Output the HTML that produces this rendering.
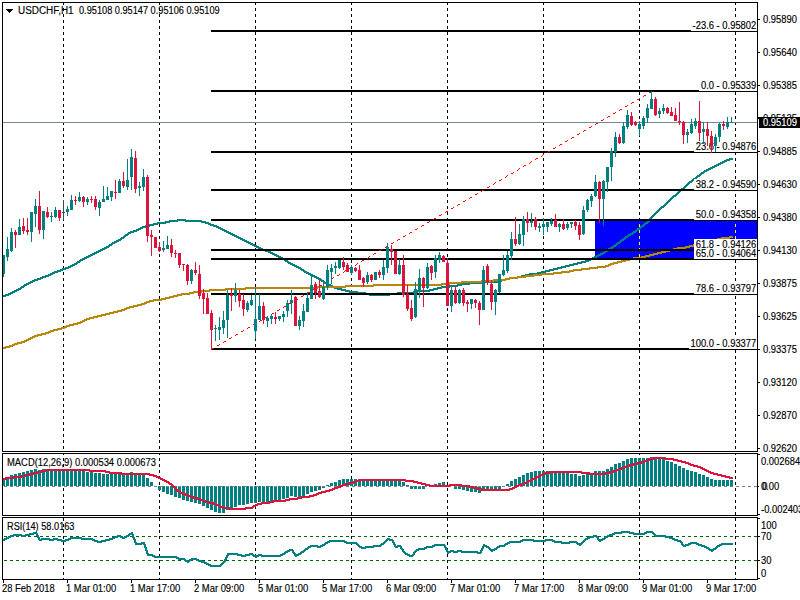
<!DOCTYPE html>
<html><head><meta charset="utf-8"><style>
html,body{margin:0;padding:0;background:#fff;width:800px;height:600px;overflow:hidden;position:relative}
.t{font-family:"Liberation Sans", "DejaVu Sans", sans-serif;font-size:10px;fill:#000;stroke:currentColor;stroke-width:0.15px;white-space:pre}
</style></head><body>
<svg width="800" height="600" viewBox="0 0 800 600" shape-rendering="crispEdges" style="position:absolute;left:0;top:0">
<rect x="0" y="0" width="800" height="600" fill="#fff"/>
<path d="M63 3h1v2h-1zM63 8h1v3h-1zM63 14h1v3h-1zM63 20h1v3h-1zM63 26h1v3h-1zM63 32h1v3h-1zM63 38h1v3h-1zM63 44h1v3h-1zM63 50h1v3h-1zM63 56h1v3h-1zM63 62h1v3h-1zM63 68h1v3h-1zM63 74h1v3h-1zM63 80h1v3h-1zM63 86h1v3h-1zM63 92h1v3h-1zM63 98h1v3h-1zM63 104h1v3h-1zM63 110h1v3h-1zM63 116h1v3h-1zM63 122h1v3h-1zM63 128h1v3h-1zM63 134h1v3h-1zM63 140h1v3h-1zM63 146h1v3h-1zM63 152h1v3h-1zM63 158h1v3h-1zM63 164h1v3h-1zM63 170h1v3h-1zM63 176h1v3h-1zM63 182h1v3h-1zM63 188h1v3h-1zM63 194h1v3h-1zM63 200h1v3h-1zM63 206h1v3h-1zM63 212h1v3h-1zM63 218h1v3h-1zM63 224h1v3h-1zM63 230h1v3h-1zM63 236h1v3h-1zM63 242h1v3h-1zM63 248h1v3h-1zM63 254h1v3h-1zM63 260h1v3h-1zM63 266h1v3h-1zM63 272h1v3h-1zM63 278h1v3h-1zM63 284h1v3h-1zM63 290h1v3h-1zM63 296h1v3h-1zM63 302h1v3h-1zM63 308h1v3h-1zM63 314h1v3h-1zM63 320h1v3h-1zM63 326h1v3h-1zM63 332h1v3h-1zM63 338h1v3h-1zM63 344h1v3h-1zM63 350h1v3h-1zM63 356h1v3h-1zM63 362h1v3h-1zM63 368h1v3h-1zM63 374h1v3h-1zM63 380h1v3h-1zM63 386h1v3h-1zM63 392h1v3h-1zM63 398h1v3h-1zM63 404h1v3h-1zM63 410h1v3h-1zM63 416h1v3h-1zM63 422h1v3h-1zM63 428h1v3h-1zM63 434h1v3h-1zM63 440h1v3h-1zM63 446h1v3h-1z" fill="#000"/>
<path d="M159 3h1v2h-1zM159 8h1v3h-1zM159 14h1v3h-1zM159 20h1v3h-1zM159 26h1v3h-1zM159 32h1v3h-1zM159 38h1v3h-1zM159 44h1v3h-1zM159 50h1v3h-1zM159 56h1v3h-1zM159 62h1v3h-1zM159 68h1v3h-1zM159 74h1v3h-1zM159 80h1v3h-1zM159 86h1v3h-1zM159 92h1v3h-1zM159 98h1v3h-1zM159 104h1v3h-1zM159 110h1v3h-1zM159 116h1v3h-1zM159 122h1v3h-1zM159 128h1v3h-1zM159 134h1v3h-1zM159 140h1v3h-1zM159 146h1v3h-1zM159 152h1v3h-1zM159 158h1v3h-1zM159 164h1v3h-1zM159 170h1v3h-1zM159 176h1v3h-1zM159 182h1v3h-1zM159 188h1v3h-1zM159 194h1v3h-1zM159 200h1v3h-1zM159 206h1v3h-1zM159 212h1v3h-1zM159 218h1v3h-1zM159 224h1v3h-1zM159 230h1v3h-1zM159 236h1v3h-1zM159 242h1v3h-1zM159 248h1v3h-1zM159 254h1v3h-1zM159 260h1v3h-1zM159 266h1v3h-1zM159 272h1v3h-1zM159 278h1v3h-1zM159 284h1v3h-1zM159 290h1v3h-1zM159 296h1v3h-1zM159 302h1v3h-1zM159 308h1v3h-1zM159 314h1v3h-1zM159 320h1v3h-1zM159 326h1v3h-1zM159 332h1v3h-1zM159 338h1v3h-1zM159 344h1v3h-1zM159 350h1v3h-1zM159 356h1v3h-1zM159 362h1v3h-1zM159 368h1v3h-1zM159 374h1v3h-1zM159 380h1v3h-1zM159 386h1v3h-1zM159 392h1v3h-1zM159 398h1v3h-1zM159 404h1v3h-1zM159 410h1v3h-1zM159 416h1v3h-1zM159 422h1v3h-1zM159 428h1v3h-1zM159 434h1v3h-1zM159 440h1v3h-1zM159 446h1v3h-1z" fill="#000"/>
<path d="M255 3h1v2h-1zM255 8h1v3h-1zM255 14h1v3h-1zM255 20h1v3h-1zM255 26h1v3h-1zM255 32h1v3h-1zM255 38h1v3h-1zM255 44h1v3h-1zM255 50h1v3h-1zM255 56h1v3h-1zM255 62h1v3h-1zM255 68h1v3h-1zM255 74h1v3h-1zM255 80h1v3h-1zM255 86h1v3h-1zM255 92h1v3h-1zM255 98h1v3h-1zM255 104h1v3h-1zM255 110h1v3h-1zM255 116h1v3h-1zM255 122h1v3h-1zM255 128h1v3h-1zM255 134h1v3h-1zM255 140h1v3h-1zM255 146h1v3h-1zM255 152h1v3h-1zM255 158h1v3h-1zM255 164h1v3h-1zM255 170h1v3h-1zM255 176h1v3h-1zM255 182h1v3h-1zM255 188h1v3h-1zM255 194h1v3h-1zM255 200h1v3h-1zM255 206h1v3h-1zM255 212h1v3h-1zM255 218h1v3h-1zM255 224h1v3h-1zM255 230h1v3h-1zM255 236h1v3h-1zM255 242h1v3h-1zM255 248h1v3h-1zM255 254h1v3h-1zM255 260h1v3h-1zM255 266h1v3h-1zM255 272h1v3h-1zM255 278h1v3h-1zM255 284h1v3h-1zM255 290h1v3h-1zM255 296h1v3h-1zM255 302h1v3h-1zM255 308h1v3h-1zM255 314h1v3h-1zM255 320h1v3h-1zM255 326h1v3h-1zM255 332h1v3h-1zM255 338h1v3h-1zM255 344h1v3h-1zM255 350h1v3h-1zM255 356h1v3h-1zM255 362h1v3h-1zM255 368h1v3h-1zM255 374h1v3h-1zM255 380h1v3h-1zM255 386h1v3h-1zM255 392h1v3h-1zM255 398h1v3h-1zM255 404h1v3h-1zM255 410h1v3h-1zM255 416h1v3h-1zM255 422h1v3h-1zM255 428h1v3h-1zM255 434h1v3h-1zM255 440h1v3h-1zM255 446h1v3h-1z" fill="#000"/>
<path d="M351 3h1v2h-1zM351 8h1v3h-1zM351 14h1v3h-1zM351 20h1v3h-1zM351 26h1v3h-1zM351 32h1v3h-1zM351 38h1v3h-1zM351 44h1v3h-1zM351 50h1v3h-1zM351 56h1v3h-1zM351 62h1v3h-1zM351 68h1v3h-1zM351 74h1v3h-1zM351 80h1v3h-1zM351 86h1v3h-1zM351 92h1v3h-1zM351 98h1v3h-1zM351 104h1v3h-1zM351 110h1v3h-1zM351 116h1v3h-1zM351 122h1v3h-1zM351 128h1v3h-1zM351 134h1v3h-1zM351 140h1v3h-1zM351 146h1v3h-1zM351 152h1v3h-1zM351 158h1v3h-1zM351 164h1v3h-1zM351 170h1v3h-1zM351 176h1v3h-1zM351 182h1v3h-1zM351 188h1v3h-1zM351 194h1v3h-1zM351 200h1v3h-1zM351 206h1v3h-1zM351 212h1v3h-1zM351 218h1v3h-1zM351 224h1v3h-1zM351 230h1v3h-1zM351 236h1v3h-1zM351 242h1v3h-1zM351 248h1v3h-1zM351 254h1v3h-1zM351 260h1v3h-1zM351 266h1v3h-1zM351 272h1v3h-1zM351 278h1v3h-1zM351 284h1v3h-1zM351 290h1v3h-1zM351 296h1v3h-1zM351 302h1v3h-1zM351 308h1v3h-1zM351 314h1v3h-1zM351 320h1v3h-1zM351 326h1v3h-1zM351 332h1v3h-1zM351 338h1v3h-1zM351 344h1v3h-1zM351 350h1v3h-1zM351 356h1v3h-1zM351 362h1v3h-1zM351 368h1v3h-1zM351 374h1v3h-1zM351 380h1v3h-1zM351 386h1v3h-1zM351 392h1v3h-1zM351 398h1v3h-1zM351 404h1v3h-1zM351 410h1v3h-1zM351 416h1v3h-1zM351 422h1v3h-1zM351 428h1v3h-1zM351 434h1v3h-1zM351 440h1v3h-1zM351 446h1v3h-1z" fill="#000"/>
<path d="M447 3h1v2h-1zM447 8h1v3h-1zM447 14h1v3h-1zM447 20h1v3h-1zM447 26h1v3h-1zM447 32h1v3h-1zM447 38h1v3h-1zM447 44h1v3h-1zM447 50h1v3h-1zM447 56h1v3h-1zM447 62h1v3h-1zM447 68h1v3h-1zM447 74h1v3h-1zM447 80h1v3h-1zM447 86h1v3h-1zM447 92h1v3h-1zM447 98h1v3h-1zM447 104h1v3h-1zM447 110h1v3h-1zM447 116h1v3h-1zM447 122h1v3h-1zM447 128h1v3h-1zM447 134h1v3h-1zM447 140h1v3h-1zM447 146h1v3h-1zM447 152h1v3h-1zM447 158h1v3h-1zM447 164h1v3h-1zM447 170h1v3h-1zM447 176h1v3h-1zM447 182h1v3h-1zM447 188h1v3h-1zM447 194h1v3h-1zM447 200h1v3h-1zM447 206h1v3h-1zM447 212h1v3h-1zM447 218h1v3h-1zM447 224h1v3h-1zM447 230h1v3h-1zM447 236h1v3h-1zM447 242h1v3h-1zM447 248h1v3h-1zM447 254h1v3h-1zM447 260h1v3h-1zM447 266h1v3h-1zM447 272h1v3h-1zM447 278h1v3h-1zM447 284h1v3h-1zM447 290h1v3h-1zM447 296h1v3h-1zM447 302h1v3h-1zM447 308h1v3h-1zM447 314h1v3h-1zM447 320h1v3h-1zM447 326h1v3h-1zM447 332h1v3h-1zM447 338h1v3h-1zM447 344h1v3h-1zM447 350h1v3h-1zM447 356h1v3h-1zM447 362h1v3h-1zM447 368h1v3h-1zM447 374h1v3h-1zM447 380h1v3h-1zM447 386h1v3h-1zM447 392h1v3h-1zM447 398h1v3h-1zM447 404h1v3h-1zM447 410h1v3h-1zM447 416h1v3h-1zM447 422h1v3h-1zM447 428h1v3h-1zM447 434h1v3h-1zM447 440h1v3h-1zM447 446h1v3h-1z" fill="#000"/>
<path d="M543 3h1v2h-1zM543 8h1v3h-1zM543 14h1v3h-1zM543 20h1v3h-1zM543 26h1v3h-1zM543 32h1v3h-1zM543 38h1v3h-1zM543 44h1v3h-1zM543 50h1v3h-1zM543 56h1v3h-1zM543 62h1v3h-1zM543 68h1v3h-1zM543 74h1v3h-1zM543 80h1v3h-1zM543 86h1v3h-1zM543 92h1v3h-1zM543 98h1v3h-1zM543 104h1v3h-1zM543 110h1v3h-1zM543 116h1v3h-1zM543 122h1v3h-1zM543 128h1v3h-1zM543 134h1v3h-1zM543 140h1v3h-1zM543 146h1v3h-1zM543 152h1v3h-1zM543 158h1v3h-1zM543 164h1v3h-1zM543 170h1v3h-1zM543 176h1v3h-1zM543 182h1v3h-1zM543 188h1v3h-1zM543 194h1v3h-1zM543 200h1v3h-1zM543 206h1v3h-1zM543 212h1v3h-1zM543 218h1v3h-1zM543 224h1v3h-1zM543 230h1v3h-1zM543 236h1v3h-1zM543 242h1v3h-1zM543 248h1v3h-1zM543 254h1v3h-1zM543 260h1v3h-1zM543 266h1v3h-1zM543 272h1v3h-1zM543 278h1v3h-1zM543 284h1v3h-1zM543 290h1v3h-1zM543 296h1v3h-1zM543 302h1v3h-1zM543 308h1v3h-1zM543 314h1v3h-1zM543 320h1v3h-1zM543 326h1v3h-1zM543 332h1v3h-1zM543 338h1v3h-1zM543 344h1v3h-1zM543 350h1v3h-1zM543 356h1v3h-1zM543 362h1v3h-1zM543 368h1v3h-1zM543 374h1v3h-1zM543 380h1v3h-1zM543 386h1v3h-1zM543 392h1v3h-1zM543 398h1v3h-1zM543 404h1v3h-1zM543 410h1v3h-1zM543 416h1v3h-1zM543 422h1v3h-1zM543 428h1v3h-1zM543 434h1v3h-1zM543 440h1v3h-1zM543 446h1v3h-1z" fill="#000"/>
<path d="M639 3h1v2h-1zM639 8h1v3h-1zM639 14h1v3h-1zM639 20h1v3h-1zM639 26h1v3h-1zM639 32h1v3h-1zM639 38h1v3h-1zM639 44h1v3h-1zM639 50h1v3h-1zM639 56h1v3h-1zM639 62h1v3h-1zM639 68h1v3h-1zM639 74h1v3h-1zM639 80h1v3h-1zM639 86h1v3h-1zM639 92h1v3h-1zM639 98h1v3h-1zM639 104h1v3h-1zM639 110h1v3h-1zM639 116h1v3h-1zM639 122h1v3h-1zM639 128h1v3h-1zM639 134h1v3h-1zM639 140h1v3h-1zM639 146h1v3h-1zM639 152h1v3h-1zM639 158h1v3h-1zM639 164h1v3h-1zM639 170h1v3h-1zM639 176h1v3h-1zM639 182h1v3h-1zM639 188h1v3h-1zM639 194h1v3h-1zM639 200h1v3h-1zM639 206h1v3h-1zM639 212h1v3h-1zM639 218h1v3h-1zM639 224h1v3h-1zM639 230h1v3h-1zM639 236h1v3h-1zM639 242h1v3h-1zM639 248h1v3h-1zM639 254h1v3h-1zM639 260h1v3h-1zM639 266h1v3h-1zM639 272h1v3h-1zM639 278h1v3h-1zM639 284h1v3h-1zM639 290h1v3h-1zM639 296h1v3h-1zM639 302h1v3h-1zM639 308h1v3h-1zM639 314h1v3h-1zM639 320h1v3h-1zM639 326h1v3h-1zM639 332h1v3h-1zM639 338h1v3h-1zM639 344h1v3h-1zM639 350h1v3h-1zM639 356h1v3h-1zM639 362h1v3h-1zM639 368h1v3h-1zM639 374h1v3h-1zM639 380h1v3h-1zM639 386h1v3h-1zM639 392h1v3h-1zM639 398h1v3h-1zM639 404h1v3h-1zM639 410h1v3h-1zM639 416h1v3h-1zM639 422h1v3h-1zM639 428h1v3h-1zM639 434h1v3h-1zM639 440h1v3h-1zM639 446h1v3h-1z" fill="#000"/>
<path d="M735 3h1v2h-1zM735 8h1v3h-1zM735 14h1v3h-1zM735 20h1v3h-1zM735 26h1v3h-1zM735 32h1v3h-1zM735 38h1v3h-1zM735 44h1v3h-1zM735 50h1v3h-1zM735 56h1v3h-1zM735 62h1v3h-1zM735 68h1v3h-1zM735 74h1v3h-1zM735 80h1v3h-1zM735 86h1v3h-1zM735 92h1v3h-1zM735 98h1v3h-1zM735 104h1v3h-1zM735 110h1v3h-1zM735 116h1v3h-1zM735 122h1v3h-1zM735 128h1v3h-1zM735 134h1v3h-1zM735 140h1v3h-1zM735 146h1v3h-1zM735 152h1v3h-1zM735 158h1v3h-1zM735 164h1v3h-1zM735 170h1v3h-1zM735 176h1v3h-1zM735 182h1v3h-1zM735 188h1v3h-1zM735 194h1v3h-1zM735 200h1v3h-1zM735 206h1v3h-1zM735 212h1v3h-1zM735 218h1v3h-1zM735 224h1v3h-1zM735 230h1v3h-1zM735 236h1v3h-1zM735 242h1v3h-1zM735 248h1v3h-1zM735 254h1v3h-1zM735 260h1v3h-1zM735 266h1v3h-1zM735 272h1v3h-1zM735 278h1v3h-1zM735 284h1v3h-1zM735 290h1v3h-1zM735 296h1v3h-1zM735 302h1v3h-1zM735 308h1v3h-1zM735 314h1v3h-1zM735 320h1v3h-1zM735 326h1v3h-1zM735 332h1v3h-1zM735 338h1v3h-1zM735 344h1v3h-1zM735 350h1v3h-1zM735 356h1v3h-1zM735 362h1v3h-1zM735 368h1v3h-1zM735 374h1v3h-1zM735 380h1v3h-1zM735 386h1v3h-1zM735 392h1v3h-1zM735 398h1v3h-1zM735 404h1v3h-1zM735 410h1v3h-1zM735 416h1v3h-1zM735 422h1v3h-1zM735 428h1v3h-1zM735 434h1v3h-1zM735 440h1v3h-1zM735 446h1v3h-1z" fill="#000"/>
<rect x="595" y="221" width="162" height="37" fill="#0000ff"/>
<path d="M639 224h1v1h-1zM639 225h1v1h-1zM639 226h1v1h-1zM639 230h1v1h-1zM639 231h1v1h-1zM639 232h1v1h-1zM639 236h1v1h-1zM639 237h1v1h-1zM639 238h1v1h-1zM639 242h1v1h-1zM639 243h1v1h-1zM639 244h1v1h-1zM639 248h1v1h-1zM639 249h1v1h-1zM639 250h1v1h-1zM639 254h1v1h-1zM639 255h1v1h-1zM639 256h1v1h-1z" fill="#ffff00"/>
<path d="M735 224h1v1h-1zM735 225h1v1h-1zM735 226h1v1h-1zM735 230h1v1h-1zM735 231h1v1h-1zM735 232h1v1h-1zM735 236h1v1h-1zM735 237h1v1h-1zM735 238h1v1h-1zM735 242h1v1h-1zM735 243h1v1h-1zM735 244h1v1h-1zM735 248h1v1h-1zM735 249h1v1h-1zM735 250h1v1h-1zM735 254h1v1h-1zM735 255h1v1h-1zM735 256h1v1h-1z" fill="#ffff00"/>
<rect x="3" y="122" width="754" height="1" fill="#778899"/>
<path d="M3 295h1v2h-1zM4 295h1v2h-1zM5 294h1v3h-1zM6 294h1v2h-1zM7 294h1v2h-1zM8 293h1v3h-1zM9 293h1v2h-1zM10 292h1v3h-1zM11 292h1v2h-1zM12 291h1v3h-1zM13 291h1v2h-1zM14 290h1v3h-1zM15 290h1v2h-1zM16 289h1v3h-1zM17 289h1v2h-1zM18 288h1v3h-1zM19 288h1v2h-1zM20 287h1v3h-1zM21 286h1v3h-1zM22 286h1v2h-1zM23 285h1v3h-1zM24 284h1v3h-1zM25 284h1v2h-1zM26 283h1v3h-1zM27 283h1v2h-1zM28 282h1v3h-1zM29 282h1v2h-1zM30 281h1v3h-1zM31 281h1v2h-1zM32 280h1v3h-1zM33 280h1v2h-1zM34 279h1v3h-1zM35 279h1v2h-1zM36 279h1v2h-1zM37 278h1v3h-1zM38 278h1v2h-1zM39 278h1v2h-1zM40 277h1v3h-1zM41 277h1v2h-1zM42 276h1v3h-1zM43 276h1v2h-1zM44 276h1v2h-1zM45 275h1v3h-1zM46 275h1v2h-1zM47 275h1v2h-1zM48 274h1v3h-1zM49 274h1v2h-1zM50 273h1v3h-1zM51 273h1v2h-1zM52 272h1v3h-1zM53 272h1v2h-1zM54 271h1v3h-1zM55 271h1v2h-1zM56 271h1v2h-1zM57 270h1v3h-1zM58 270h1v2h-1zM59 270h1v2h-1zM60 269h1v3h-1zM61 269h1v2h-1zM62 268h1v3h-1zM63 268h1v2h-1zM64 268h1v2h-1zM65 267h1v3h-1zM66 267h1v2h-1zM67 267h1v2h-1zM68 266h1v3h-1zM69 266h1v2h-1zM70 265h1v3h-1zM71 265h1v2h-1zM72 264h1v3h-1zM73 264h1v2h-1zM74 263h1v3h-1zM75 263h1v2h-1zM76 262h1v3h-1zM77 261h1v3h-1zM78 261h1v2h-1zM79 260h1v3h-1zM80 259h1v3h-1zM81 259h1v2h-1zM82 258h1v3h-1zM83 258h1v2h-1zM84 257h1v3h-1zM85 257h1v2h-1zM86 256h1v3h-1zM87 256h1v2h-1zM88 255h1v3h-1zM89 255h1v2h-1zM90 254h1v3h-1zM91 254h1v2h-1zM92 253h1v3h-1zM93 253h1v2h-1zM94 252h1v3h-1zM95 252h1v2h-1zM96 251h1v3h-1zM97 251h1v2h-1zM98 250h1v3h-1zM99 250h1v2h-1zM100 249h1v3h-1zM101 249h1v2h-1zM102 248h1v3h-1zM103 248h1v2h-1zM104 247h1v3h-1zM105 247h1v2h-1zM106 246h1v3h-1zM107 246h1v2h-1zM108 245h1v3h-1zM109 244h1v3h-1zM110 244h1v2h-1zM111 243h1v3h-1zM112 242h1v3h-1zM113 242h1v2h-1zM114 241h1v3h-1zM115 241h1v2h-1zM116 240h1v3h-1zM117 240h1v2h-1zM118 239h1v3h-1zM119 239h1v2h-1zM120 238h1v3h-1zM121 237h1v3h-1zM122 237h1v2h-1zM123 236h1v3h-1zM124 235h1v3h-1zM125 234h1v3h-1zM126 234h1v2h-1zM127 233h1v3h-1zM128 232h1v3h-1zM129 232h1v2h-1zM130 231h1v3h-1zM131 231h1v2h-1zM132 231h1v2h-1zM133 230h1v3h-1zM134 230h1v2h-1zM135 230h1v2h-1zM136 229h1v3h-1zM137 229h1v2h-1zM138 228h1v3h-1zM139 228h1v2h-1zM140 227h1v3h-1zM141 227h1v2h-1zM142 226h1v3h-1zM143 226h1v2h-1zM144 226h1v2h-1zM145 225h1v3h-1zM146 225h1v2h-1zM147 225h1v2h-1zM148 225h1v2h-1zM149 224h1v3h-1zM150 224h1v2h-1zM151 224h1v2h-1zM152 224h1v2h-1zM153 223h1v3h-1zM154 223h1v2h-1zM155 223h1v2h-1zM156 223h1v2h-1zM157 222h1v3h-1zM158 222h1v2h-1zM159 222h1v2h-1zM160 222h1v2h-1zM161 222h1v2h-1zM162 222h1v2h-1zM163 222h1v2h-1zM164 222h1v2h-1zM165 221h1v3h-1zM166 221h1v2h-1zM167 221h1v2h-1zM168 221h1v2h-1zM169 220h1v3h-1zM170 220h1v2h-1zM171 220h1v2h-1zM172 220h1v2h-1zM173 220h1v2h-1zM174 220h1v2h-1zM175 220h1v2h-1zM176 220h1v2h-1zM177 219h1v3h-1zM178 219h1v2h-1zM179 219h1v2h-1zM180 219h1v2h-1zM181 219h1v2h-1zM182 219h1v2h-1zM183 219h1v2h-1zM184 219h1v2h-1zM185 219h1v3h-1zM186 220h1v2h-1zM187 220h1v2h-1zM188 220h1v2h-1zM189 220h1v2h-1zM190 220h1v2h-1zM191 220h1v2h-1zM192 220h1v2h-1zM193 220h1v2h-1zM194 220h1v2h-1zM195 220h1v2h-1zM196 220h1v2h-1zM197 220h1v2h-1zM198 220h1v2h-1zM199 220h1v2h-1zM200 220h1v2h-1zM201 220h1v3h-1zM202 221h1v2h-1zM203 221h1v2h-1zM204 221h1v2h-1zM205 221h1v3h-1zM206 222h1v2h-1zM207 222h1v2h-1zM208 222h1v3h-1zM209 223h1v2h-1zM210 223h1v3h-1zM211 224h1v2h-1zM212 224h1v2h-1zM213 224h1v3h-1zM214 225h1v2h-1zM215 225h1v2h-1zM216 225h1v3h-1zM217 226h1v2h-1zM218 226h1v3h-1zM219 227h1v2h-1zM220 227h1v3h-1zM221 228h1v2h-1zM222 228h1v3h-1zM223 229h1v2h-1zM224 229h1v3h-1zM225 230h1v2h-1zM226 230h1v3h-1zM227 231h1v2h-1zM228 231h1v3h-1zM229 232h1v2h-1zM230 232h1v3h-1zM231 233h1v2h-1zM232 233h1v3h-1zM233 234h1v2h-1zM234 234h1v3h-1zM235 235h1v2h-1zM236 235h1v3h-1zM237 236h1v2h-1zM238 236h1v3h-1zM239 237h1v2h-1zM240 237h1v3h-1zM241 238h1v2h-1zM242 238h1v3h-1zM243 239h1v2h-1zM244 239h1v3h-1zM245 240h1v2h-1zM246 240h1v3h-1zM247 241h1v2h-1zM248 241h1v3h-1zM249 242h1v2h-1zM250 242h1v3h-1zM251 243h1v2h-1zM252 243h1v3h-1zM253 244h1v2h-1zM254 244h1v3h-1zM255 245h1v2h-1zM256 245h1v3h-1zM257 246h1v2h-1zM258 246h1v3h-1zM259 247h1v2h-1zM260 247h1v3h-1zM261 248h1v2h-1zM262 248h1v3h-1zM263 249h1v2h-1zM264 249h1v2h-1zM265 249h1v3h-1zM266 250h1v2h-1zM267 250h1v2h-1zM268 250h1v3h-1zM269 251h1v2h-1zM270 251h1v3h-1zM271 252h1v2h-1zM272 252h1v3h-1zM273 253h1v2h-1zM274 253h1v3h-1zM275 254h1v2h-1zM276 254h1v3h-1zM277 255h1v2h-1zM278 255h1v3h-1zM279 256h1v2h-1zM280 256h1v3h-1zM281 257h1v2h-1zM282 257h1v3h-1zM283 258h1v2h-1zM284 258h1v3h-1zM285 259h1v3h-1zM286 260h1v2h-1zM287 260h1v3h-1zM288 261h1v3h-1zM289 262h1v2h-1zM290 262h1v3h-1zM291 263h1v2h-1zM292 263h1v3h-1zM293 264h1v2h-1zM294 264h1v3h-1zM295 265h1v2h-1zM296 265h1v3h-1zM297 266h1v2h-1zM298 266h1v3h-1zM299 267h1v2h-1zM300 267h1v3h-1zM301 268h1v3h-1zM302 269h1v2h-1zM303 269h1v3h-1zM304 270h1v3h-1zM305 271h1v2h-1zM306 271h1v3h-1zM307 272h1v2h-1zM308 272h1v3h-1zM309 273h1v2h-1zM310 273h1v3h-1zM311 274h1v2h-1zM312 274h1v3h-1zM313 275h1v2h-1zM314 275h1v3h-1zM315 276h1v2h-1zM316 276h1v3h-1zM317 277h1v2h-1zM318 277h1v3h-1zM319 278h1v2h-1zM320 278h1v3h-1zM321 279h1v3h-1zM322 280h1v2h-1zM323 280h1v3h-1zM324 281h1v3h-1zM325 282h1v2h-1zM326 282h1v3h-1zM327 283h1v2h-1zM328 283h1v3h-1zM329 284h1v2h-1zM330 284h1v3h-1zM331 285h1v2h-1zM332 285h1v3h-1zM333 286h1v2h-1zM334 286h1v3h-1zM335 287h1v2h-1zM336 287h1v2h-1zM337 287h1v3h-1zM338 288h1v2h-1zM339 288h1v2h-1zM340 288h1v2h-1zM341 288h1v3h-1zM342 289h1v2h-1zM343 289h1v2h-1zM344 289h1v2h-1zM345 289h1v3h-1zM346 290h1v2h-1zM347 290h1v2h-1zM348 290h1v2h-1zM349 290h1v3h-1zM350 291h1v2h-1zM351 291h1v2h-1zM352 291h1v2h-1zM353 291h1v2h-1zM354 291h1v2h-1zM355 291h1v2h-1zM356 291h1v2h-1zM357 291h1v3h-1zM358 292h1v2h-1zM359 292h1v2h-1zM360 292h1v2h-1zM361 292h1v2h-1zM362 292h1v2h-1zM363 292h1v2h-1zM364 292h1v2h-1zM365 292h1v3h-1zM366 293h1v2h-1zM367 293h1v2h-1zM368 293h1v2h-1zM369 293h1v3h-1zM370 294h1v2h-1zM371 294h1v2h-1zM372 294h1v2h-1zM373 294h1v2h-1zM374 294h1v2h-1zM375 294h1v2h-1zM376 294h1v2h-1zM377 294h1v2h-1zM378 294h1v2h-1zM379 294h1v2h-1zM380 294h1v2h-1zM381 294h1v2h-1zM382 294h1v2h-1zM383 294h1v2h-1zM384 294h1v2h-1zM385 294h1v2h-1zM386 294h1v2h-1zM387 294h1v2h-1zM388 294h1v2h-1zM389 293h1v3h-1zM390 293h1v2h-1zM391 293h1v2h-1zM392 293h1v2h-1zM393 293h1v2h-1zM394 293h1v2h-1zM395 293h1v2h-1zM396 293h1v2h-1zM397 292h1v3h-1zM398 292h1v2h-1zM399 292h1v2h-1zM400 292h1v2h-1zM401 292h1v2h-1zM402 292h1v2h-1zM403 292h1v2h-1zM404 292h1v2h-1zM405 292h1v2h-1zM406 292h1v2h-1zM407 292h1v2h-1zM408 292h1v2h-1zM409 292h1v2h-1zM410 292h1v2h-1zM411 292h1v2h-1zM412 292h1v2h-1zM413 291h1v3h-1zM414 291h1v2h-1zM415 291h1v2h-1zM416 291h1v2h-1zM417 290h1v3h-1zM418 290h1v2h-1zM419 290h1v2h-1zM420 290h1v2h-1zM421 290h1v2h-1zM422 290h1v2h-1zM423 290h1v2h-1zM424 290h1v2h-1zM425 290h1v2h-1zM426 290h1v2h-1zM427 290h1v2h-1zM428 290h1v2h-1zM429 289h1v3h-1zM430 289h1v2h-1zM431 289h1v2h-1zM432 289h1v2h-1zM433 288h1v3h-1zM434 288h1v2h-1zM435 288h1v2h-1zM436 288h1v2h-1zM437 287h1v3h-1zM438 287h1v2h-1zM439 287h1v2h-1zM440 287h1v2h-1zM441 286h1v3h-1zM442 286h1v2h-1zM443 286h1v2h-1zM444 286h1v2h-1zM445 286h1v2h-1zM446 286h1v2h-1zM447 286h1v2h-1zM448 286h1v2h-1zM449 285h1v3h-1zM450 285h1v2h-1zM451 285h1v2h-1zM452 285h1v2h-1zM453 285h1v2h-1zM454 285h1v2h-1zM455 285h1v2h-1zM456 285h1v2h-1zM457 284h1v3h-1zM458 284h1v2h-1zM459 284h1v2h-1zM460 284h1v2h-1zM461 283h1v3h-1zM462 283h1v2h-1zM463 283h1v2h-1zM464 283h1v2h-1zM465 283h1v2h-1zM466 283h1v2h-1zM467 283h1v2h-1zM468 283h1v2h-1zM469 282h1v3h-1zM470 282h1v2h-1zM471 282h1v2h-1zM472 282h1v2h-1zM473 282h1v2h-1zM474 282h1v2h-1zM475 282h1v2h-1zM476 282h1v2h-1zM477 282h1v2h-1zM478 282h1v2h-1zM479 282h1v2h-1zM480 282h1v2h-1zM481 281h1v3h-1zM482 281h1v2h-1zM483 281h1v2h-1zM484 281h1v2h-1zM485 281h1v2h-1zM486 281h1v2h-1zM487 281h1v2h-1zM488 281h1v2h-1zM489 281h1v2h-1zM490 281h1v2h-1zM491 281h1v2h-1zM492 281h1v2h-1zM493 281h1v2h-1zM494 281h1v2h-1zM495 281h1v2h-1zM496 281h1v2h-1zM497 280h1v3h-1zM498 280h1v2h-1zM499 280h1v2h-1zM500 280h1v2h-1zM501 279h1v3h-1zM502 279h1v2h-1zM503 279h1v2h-1zM504 279h1v2h-1zM505 278h1v3h-1zM506 278h1v2h-1zM507 278h1v2h-1zM508 278h1v2h-1zM509 277h1v3h-1zM510 277h1v2h-1zM511 277h1v2h-1zM512 277h1v2h-1zM513 277h1v2h-1zM514 277h1v2h-1zM515 277h1v2h-1zM516 277h1v2h-1zM517 276h1v3h-1zM518 276h1v2h-1zM519 276h1v2h-1zM520 276h1v2h-1zM521 275h1v3h-1zM522 275h1v2h-1zM523 275h1v2h-1zM524 275h1v2h-1zM525 274h1v3h-1zM526 274h1v2h-1zM527 274h1v2h-1zM528 274h1v2h-1zM529 273h1v3h-1zM530 273h1v2h-1zM531 273h1v2h-1zM532 273h1v2h-1zM533 273h1v2h-1zM534 273h1v2h-1zM535 273h1v2h-1zM536 273h1v2h-1zM537 272h1v3h-1zM538 272h1v2h-1zM539 272h1v2h-1zM540 272h1v2h-1zM541 271h1v3h-1zM542 271h1v2h-1zM543 271h1v2h-1zM544 271h1v2h-1zM545 270h1v3h-1zM546 270h1v2h-1zM547 270h1v2h-1zM548 270h1v2h-1zM549 269h1v3h-1zM550 269h1v2h-1zM551 269h1v2h-1zM552 269h1v2h-1zM553 268h1v3h-1zM554 268h1v2h-1zM555 268h1v2h-1zM556 268h1v2h-1zM557 267h1v3h-1zM558 267h1v2h-1zM559 267h1v2h-1zM560 267h1v2h-1zM561 266h1v3h-1zM562 266h1v2h-1zM563 266h1v2h-1zM564 266h1v2h-1zM565 265h1v3h-1zM566 265h1v2h-1zM567 265h1v2h-1zM568 265h1v2h-1zM569 264h1v3h-1zM570 264h1v2h-1zM571 264h1v2h-1zM572 264h1v2h-1zM573 263h1v3h-1zM574 263h1v2h-1zM575 263h1v2h-1zM576 263h1v2h-1zM577 262h1v3h-1zM578 262h1v2h-1zM579 262h1v2h-1zM580 262h1v2h-1zM581 261h1v3h-1zM582 261h1v2h-1zM583 261h1v2h-1zM584 261h1v2h-1zM585 260h1v3h-1zM586 260h1v2h-1zM587 260h1v2h-1zM588 259h1v3h-1zM589 259h1v2h-1zM590 258h1v3h-1zM591 258h1v2h-1zM592 257h1v3h-1zM593 257h1v2h-1zM594 256h1v3h-1zM595 256h1v2h-1zM596 255h1v3h-1zM597 255h1v2h-1zM598 254h1v3h-1zM599 254h1v2h-1zM600 253h1v3h-1zM601 253h1v2h-1zM602 252h1v3h-1zM603 252h1v2h-1zM604 251h1v3h-1zM605 250h1v3h-1zM606 250h1v2h-1zM607 249h1v3h-1zM608 248h1v3h-1zM609 248h1v2h-1zM610 247h1v3h-1zM611 247h1v2h-1zM612 246h1v3h-1zM613 245h1v3h-1zM614 245h1v2h-1zM615 244h1v3h-1zM616 243h1v3h-1zM617 242h1v3h-1zM618 242h1v2h-1zM619 241h1v3h-1zM620 240h1v3h-1zM621 239h1v3h-1zM622 239h1v2h-1zM623 238h1v3h-1zM624 237h1v3h-1zM625 236h1v3h-1zM626 236h1v2h-1zM627 235h1v3h-1zM628 234h1v3h-1zM629 234h1v2h-1zM630 233h1v3h-1zM631 233h1v2h-1zM632 232h1v3h-1zM633 231h1v3h-1zM634 231h1v2h-1zM635 230h1v3h-1zM636 229h1v3h-1zM637 228h1v3h-1zM638 228h1v2h-1zM639 227h1v3h-1zM640 226h1v3h-1zM641 225h1v3h-1zM642 225h1v2h-1zM643 224h1v3h-1zM644 223h1v3h-1zM645 222h1v3h-1zM646 222h1v2h-1zM647 221h1v3h-1zM648 220h1v3h-1zM649 218h1v4h-1zM650 217h1v4h-1zM651 216h1v3h-1zM652 215h1v3h-1zM653 214h1v3h-1zM654 213h1v3h-1zM655 212h1v3h-1zM656 211h1v3h-1zM657 210h1v3h-1zM658 209h1v3h-1zM659 208h1v3h-1zM660 207h1v3h-1zM661 206h1v3h-1zM662 206h1v2h-1zM663 205h1v3h-1zM664 204h1v3h-1zM665 203h1v3h-1zM666 202h1v3h-1zM667 201h1v3h-1zM668 200h1v3h-1zM669 199h1v3h-1zM670 198h1v3h-1zM671 197h1v3h-1zM672 196h1v3h-1zM673 195h1v3h-1zM674 195h1v2h-1zM675 194h1v3h-1zM676 193h1v3h-1zM677 192h1v3h-1zM678 191h1v3h-1zM679 190h1v3h-1zM680 189h1v3h-1zM681 188h1v3h-1zM682 188h1v2h-1zM683 187h1v3h-1zM684 186h1v3h-1zM685 185h1v3h-1zM686 184h1v3h-1zM687 183h1v3h-1zM688 182h1v3h-1zM689 181h1v3h-1zM690 181h1v2h-1zM691 180h1v3h-1zM692 179h1v3h-1zM693 178h1v3h-1zM694 178h1v2h-1zM695 177h1v3h-1zM696 176h1v3h-1zM697 175h1v3h-1zM698 175h1v2h-1zM699 174h1v3h-1zM700 173h1v3h-1zM701 172h1v3h-1zM702 172h1v2h-1zM703 171h1v3h-1zM704 170h1v3h-1zM705 170h1v2h-1zM706 169h1v3h-1zM707 169h1v2h-1zM708 168h1v3h-1zM709 168h1v2h-1zM710 167h1v3h-1zM711 167h1v2h-1zM712 166h1v3h-1zM713 166h1v2h-1zM714 165h1v3h-1zM715 165h1v2h-1zM716 164h1v3h-1zM717 164h1v2h-1zM718 163h1v3h-1zM719 163h1v2h-1zM720 162h1v3h-1zM721 162h1v2h-1zM722 161h1v3h-1zM723 161h1v2h-1zM724 160h1v3h-1zM725 160h1v2h-1zM726 159h1v3h-1zM727 159h1v2h-1zM728 159h1v2h-1zM729 158h1v3h-1zM730 158h1v2h-1zM731 158h1v2h-1zM732 158h1v2h-1z" fill="#008080"/>
<path d="M3 347h1v2h-1zM4 347h1v2h-1zM5 346h1v3h-1zM6 346h1v2h-1zM7 346h1v2h-1zM8 346h1v2h-1zM9 345h1v3h-1zM10 345h1v2h-1zM11 345h1v2h-1zM12 344h1v3h-1zM13 344h1v2h-1zM14 343h1v3h-1zM15 343h1v2h-1zM16 343h1v2h-1zM17 342h1v3h-1zM18 342h1v2h-1zM19 342h1v2h-1zM20 342h1v2h-1zM21 341h1v3h-1zM22 341h1v2h-1zM23 341h1v2h-1zM24 340h1v3h-1zM25 340h1v2h-1zM26 339h1v3h-1zM27 339h1v2h-1zM28 338h1v3h-1zM29 338h1v2h-1zM30 337h1v3h-1zM31 337h1v2h-1zM32 336h1v3h-1zM33 336h1v2h-1zM34 335h1v3h-1zM35 335h1v2h-1zM36 335h1v2h-1zM37 334h1v3h-1zM38 334h1v2h-1zM39 334h1v2h-1zM40 334h1v2h-1zM41 333h1v3h-1zM42 333h1v2h-1zM43 333h1v2h-1zM44 333h1v2h-1zM45 332h1v3h-1zM46 332h1v2h-1zM47 332h1v2h-1zM48 331h1v3h-1zM49 331h1v2h-1zM50 330h1v3h-1zM51 330h1v2h-1zM52 330h1v2h-1zM53 329h1v3h-1zM54 329h1v2h-1zM55 329h1v2h-1zM56 329h1v2h-1zM57 328h1v3h-1zM58 328h1v2h-1zM59 328h1v2h-1zM60 328h1v2h-1zM61 327h1v3h-1zM62 327h1v2h-1zM63 327h1v2h-1zM64 326h1v3h-1zM65 326h1v2h-1zM66 325h1v3h-1zM67 325h1v2h-1zM68 325h1v2h-1zM69 324h1v3h-1zM70 324h1v2h-1zM71 324h1v2h-1zM72 324h1v2h-1zM73 323h1v3h-1zM74 323h1v2h-1zM75 323h1v2h-1zM76 323h1v2h-1zM77 322h1v3h-1zM78 322h1v2h-1zM79 322h1v2h-1zM80 321h1v3h-1zM81 321h1v2h-1zM82 320h1v3h-1zM83 320h1v2h-1zM84 319h1v3h-1zM85 319h1v2h-1zM86 318h1v3h-1zM87 318h1v2h-1zM88 318h1v2h-1zM89 317h1v3h-1zM90 317h1v2h-1zM91 317h1v2h-1zM92 317h1v2h-1zM93 316h1v3h-1zM94 316h1v2h-1zM95 316h1v2h-1zM96 316h1v2h-1zM97 315h1v3h-1zM98 315h1v2h-1zM99 315h1v2h-1zM100 315h1v2h-1zM101 314h1v3h-1zM102 314h1v2h-1zM103 314h1v2h-1zM104 314h1v2h-1zM105 313h1v3h-1zM106 313h1v2h-1zM107 313h1v2h-1zM108 313h1v2h-1zM109 312h1v3h-1zM110 312h1v2h-1zM111 312h1v2h-1zM112 312h1v2h-1zM113 311h1v3h-1zM114 311h1v2h-1zM115 311h1v2h-1zM116 311h1v2h-1zM117 310h1v3h-1zM118 310h1v2h-1zM119 310h1v2h-1zM120 310h1v2h-1zM121 309h1v3h-1zM122 309h1v2h-1zM123 309h1v2h-1zM124 308h1v3h-1zM125 308h1v2h-1zM126 307h1v3h-1zM127 307h1v2h-1zM128 307h1v2h-1zM129 306h1v3h-1zM130 306h1v2h-1zM131 306h1v2h-1zM132 306h1v2h-1zM133 305h1v3h-1zM134 305h1v2h-1zM135 305h1v2h-1zM136 305h1v2h-1zM137 304h1v3h-1zM138 304h1v2h-1zM139 304h1v2h-1zM140 304h1v2h-1zM141 303h1v3h-1zM142 303h1v2h-1zM143 303h1v2h-1zM144 302h1v3h-1zM145 302h1v2h-1zM146 301h1v3h-1zM147 301h1v2h-1zM148 301h1v2h-1zM149 300h1v3h-1zM150 300h1v2h-1zM151 300h1v2h-1zM152 300h1v2h-1zM153 299h1v3h-1zM154 299h1v2h-1zM155 299h1v2h-1zM156 299h1v2h-1zM157 299h1v2h-1zM158 299h1v2h-1zM159 299h1v2h-1zM160 299h1v2h-1zM161 298h1v3h-1zM162 298h1v2h-1zM163 298h1v2h-1zM164 298h1v2h-1zM165 297h1v3h-1zM166 297h1v2h-1zM167 297h1v2h-1zM168 297h1v2h-1zM169 296h1v3h-1zM170 296h1v2h-1zM171 296h1v2h-1zM172 296h1v2h-1zM173 295h1v3h-1zM174 295h1v2h-1zM175 295h1v2h-1zM176 295h1v2h-1zM177 294h1v3h-1zM178 294h1v2h-1zM179 294h1v2h-1zM180 294h1v2h-1zM181 293h1v3h-1zM182 293h1v2h-1zM183 293h1v2h-1zM184 293h1v2h-1zM185 293h1v2h-1zM186 293h1v2h-1zM187 293h1v2h-1zM188 293h1v2h-1zM189 292h1v3h-1zM190 292h1v2h-1zM191 292h1v2h-1zM192 292h1v2h-1zM193 291h1v3h-1zM194 291h1v2h-1zM195 291h1v2h-1zM196 291h1v2h-1zM197 291h1v2h-1zM198 291h1v2h-1zM199 291h1v2h-1zM200 291h1v2h-1zM201 290h1v3h-1zM202 290h1v2h-1zM203 290h1v2h-1zM204 290h1v2h-1zM205 290h1v2h-1zM206 290h1v2h-1zM207 290h1v2h-1zM208 290h1v2h-1zM209 289h1v3h-1zM210 289h1v2h-1zM211 289h1v2h-1zM212 289h1v2h-1zM213 289h1v2h-1zM214 289h1v2h-1zM215 289h1v2h-1zM216 289h1v2h-1zM217 289h1v2h-1zM218 289h1v2h-1zM219 289h1v2h-1zM220 289h1v2h-1zM221 289h1v2h-1zM222 289h1v2h-1zM223 289h1v2h-1zM224 289h1v2h-1zM225 288h1v3h-1zM226 288h1v2h-1zM227 288h1v2h-1zM228 288h1v2h-1zM229 288h1v2h-1zM230 288h1v2h-1zM231 288h1v2h-1zM232 288h1v2h-1zM233 288h1v2h-1zM234 288h1v2h-1zM235 288h1v2h-1zM236 288h1v2h-1zM237 288h1v2h-1zM238 288h1v2h-1zM239 288h1v2h-1zM240 288h1v2h-1zM241 288h1v2h-1zM242 288h1v2h-1zM243 288h1v2h-1zM244 288h1v2h-1zM245 287h1v3h-1zM246 287h1v2h-1zM247 287h1v2h-1zM248 287h1v2h-1zM249 287h1v2h-1zM250 287h1v2h-1zM251 287h1v2h-1zM252 287h1v2h-1zM253 287h1v2h-1zM254 287h1v2h-1zM255 287h1v2h-1zM256 287h1v2h-1zM257 287h1v2h-1zM258 287h1v2h-1zM259 287h1v2h-1zM260 287h1v2h-1zM261 287h1v2h-1zM262 287h1v2h-1zM263 287h1v2h-1zM264 287h1v2h-1zM265 287h1v2h-1zM266 287h1v2h-1zM267 287h1v2h-1zM268 287h1v2h-1zM269 287h1v2h-1zM270 287h1v2h-1zM271 287h1v2h-1zM272 287h1v2h-1zM273 287h1v2h-1zM274 287h1v2h-1zM275 287h1v2h-1zM276 287h1v2h-1zM277 287h1v2h-1zM278 287h1v2h-1zM279 287h1v2h-1zM280 287h1v2h-1zM281 287h1v2h-1zM282 287h1v2h-1zM283 287h1v2h-1zM284 287h1v2h-1zM285 287h1v2h-1zM286 287h1v2h-1zM287 287h1v2h-1zM288 287h1v2h-1zM289 287h1v2h-1zM290 287h1v2h-1zM291 287h1v2h-1zM292 287h1v2h-1zM293 287h1v2h-1zM294 287h1v2h-1zM295 287h1v2h-1zM296 287h1v2h-1zM297 287h1v2h-1zM298 287h1v2h-1zM299 287h1v2h-1zM300 287h1v2h-1zM301 287h1v2h-1zM302 287h1v2h-1zM303 287h1v2h-1zM304 287h1v2h-1zM305 287h1v2h-1zM306 287h1v2h-1zM307 287h1v2h-1zM308 287h1v2h-1zM309 287h1v2h-1zM310 287h1v2h-1zM311 287h1v2h-1zM312 287h1v2h-1zM313 287h1v2h-1zM314 287h1v2h-1zM315 287h1v2h-1zM316 287h1v2h-1zM317 286h1v3h-1zM318 286h1v2h-1zM319 286h1v2h-1zM320 286h1v2h-1zM321 286h1v2h-1zM322 286h1v2h-1zM323 286h1v2h-1zM324 286h1v2h-1zM325 286h1v2h-1zM326 286h1v2h-1zM327 286h1v2h-1zM328 286h1v2h-1zM329 286h1v2h-1zM330 286h1v2h-1zM331 286h1v2h-1zM332 286h1v2h-1zM333 286h1v2h-1zM334 286h1v2h-1zM335 286h1v2h-1zM336 286h1v2h-1zM337 286h1v2h-1zM338 286h1v2h-1zM339 286h1v2h-1zM340 286h1v2h-1zM341 286h1v2h-1zM342 286h1v2h-1zM343 286h1v2h-1zM344 286h1v2h-1zM345 285h1v3h-1zM346 285h1v2h-1zM347 285h1v2h-1zM348 285h1v2h-1zM349 285h1v2h-1zM350 285h1v2h-1zM351 285h1v2h-1zM352 285h1v2h-1zM353 285h1v2h-1zM354 285h1v2h-1zM355 285h1v2h-1zM356 285h1v2h-1zM357 285h1v2h-1zM358 285h1v2h-1zM359 285h1v2h-1zM360 285h1v2h-1zM361 285h1v2h-1zM362 285h1v2h-1zM363 285h1v2h-1zM364 285h1v2h-1zM365 285h1v2h-1zM366 285h1v2h-1zM367 285h1v2h-1zM368 285h1v2h-1zM369 285h1v2h-1zM370 285h1v2h-1zM371 285h1v2h-1zM372 285h1v2h-1zM373 284h1v3h-1zM374 284h1v2h-1zM375 284h1v2h-1zM376 284h1v2h-1zM377 284h1v2h-1zM378 284h1v2h-1zM379 284h1v2h-1zM380 284h1v2h-1zM381 284h1v2h-1zM382 284h1v2h-1zM383 284h1v2h-1zM384 284h1v2h-1zM385 284h1v2h-1zM386 284h1v2h-1zM387 284h1v2h-1zM388 284h1v2h-1zM389 284h1v2h-1zM390 284h1v2h-1zM391 284h1v2h-1zM392 284h1v2h-1zM393 284h1v2h-1zM394 284h1v2h-1zM395 284h1v2h-1zM396 284h1v2h-1zM397 284h1v2h-1zM398 284h1v2h-1zM399 284h1v2h-1zM400 284h1v2h-1zM401 284h1v2h-1zM402 284h1v2h-1zM403 284h1v2h-1zM404 284h1v2h-1zM405 284h1v2h-1zM406 284h1v2h-1zM407 284h1v2h-1zM408 284h1v2h-1zM409 284h1v2h-1zM410 284h1v2h-1zM411 284h1v2h-1zM412 284h1v2h-1zM413 284h1v2h-1zM414 284h1v2h-1zM415 284h1v2h-1zM416 284h1v2h-1zM417 284h1v2h-1zM418 284h1v2h-1zM419 284h1v2h-1zM420 284h1v2h-1zM421 284h1v2h-1zM422 284h1v2h-1zM423 284h1v2h-1zM424 284h1v2h-1zM425 284h1v2h-1zM426 284h1v2h-1zM427 284h1v2h-1zM428 284h1v2h-1zM429 284h1v2h-1zM430 284h1v2h-1zM431 284h1v2h-1zM432 284h1v2h-1zM433 284h1v2h-1zM434 284h1v2h-1zM435 284h1v2h-1zM436 284h1v2h-1zM437 284h1v2h-1zM438 284h1v2h-1zM439 284h1v2h-1zM440 284h1v2h-1zM441 283h1v3h-1zM442 283h1v2h-1zM443 283h1v2h-1zM444 283h1v2h-1zM445 283h1v2h-1zM446 283h1v2h-1zM447 283h1v2h-1zM448 283h1v2h-1zM449 282h1v3h-1zM450 282h1v2h-1zM451 282h1v2h-1zM452 282h1v2h-1zM453 282h1v2h-1zM454 282h1v2h-1zM455 282h1v2h-1zM456 282h1v2h-1zM457 282h1v2h-1zM458 282h1v2h-1zM459 282h1v2h-1zM460 282h1v2h-1zM461 281h1v3h-1zM462 281h1v2h-1zM463 281h1v2h-1zM464 281h1v2h-1zM465 281h1v2h-1zM466 281h1v2h-1zM467 281h1v2h-1zM468 281h1v2h-1zM469 281h1v2h-1zM470 281h1v2h-1zM471 281h1v2h-1zM472 281h1v2h-1zM473 281h1v2h-1zM474 281h1v2h-1zM475 281h1v2h-1zM476 281h1v2h-1zM477 281h1v2h-1zM478 281h1v2h-1zM479 281h1v2h-1zM480 281h1v2h-1zM481 280h1v3h-1zM482 280h1v2h-1zM483 280h1v2h-1zM484 280h1v2h-1zM485 280h1v2h-1zM486 280h1v2h-1zM487 280h1v2h-1zM488 280h1v2h-1zM489 280h1v2h-1zM490 280h1v2h-1zM491 280h1v2h-1zM492 280h1v2h-1zM493 279h1v3h-1zM494 279h1v2h-1zM495 279h1v2h-1zM496 279h1v2h-1zM497 279h1v2h-1zM498 279h1v2h-1zM499 279h1v2h-1zM500 279h1v2h-1zM501 279h1v2h-1zM502 279h1v2h-1zM503 279h1v2h-1zM504 279h1v2h-1zM505 278h1v3h-1zM506 278h1v2h-1zM507 278h1v2h-1zM508 278h1v2h-1zM509 277h1v3h-1zM510 277h1v2h-1zM511 277h1v2h-1zM512 277h1v2h-1zM513 277h1v2h-1zM514 277h1v2h-1zM515 277h1v2h-1zM516 277h1v2h-1zM517 276h1v3h-1zM518 276h1v2h-1zM519 276h1v2h-1zM520 276h1v2h-1zM521 276h1v2h-1zM522 276h1v2h-1zM523 276h1v2h-1zM524 276h1v2h-1zM525 275h1v3h-1zM526 275h1v2h-1zM527 275h1v2h-1zM528 275h1v2h-1zM529 275h1v2h-1zM530 275h1v2h-1zM531 275h1v2h-1zM532 275h1v2h-1zM533 274h1v3h-1zM534 274h1v2h-1zM535 274h1v2h-1zM536 274h1v2h-1zM537 274h1v2h-1zM538 274h1v2h-1zM539 274h1v2h-1zM540 274h1v2h-1zM541 273h1v3h-1zM542 273h1v2h-1zM543 273h1v2h-1zM544 273h1v2h-1zM545 273h1v2h-1zM546 273h1v2h-1zM547 273h1v2h-1zM548 273h1v2h-1zM549 273h1v2h-1zM550 273h1v2h-1zM551 273h1v2h-1zM552 273h1v2h-1zM553 272h1v3h-1zM554 272h1v2h-1zM555 272h1v2h-1zM556 272h1v2h-1zM557 272h1v2h-1zM558 272h1v2h-1zM559 272h1v2h-1zM560 272h1v2h-1zM561 271h1v3h-1zM562 271h1v2h-1zM563 271h1v2h-1zM564 271h1v2h-1zM565 271h1v2h-1zM566 271h1v2h-1zM567 271h1v2h-1zM568 271h1v2h-1zM569 270h1v3h-1zM570 270h1v2h-1zM571 270h1v2h-1zM572 270h1v2h-1zM573 269h1v3h-1zM574 269h1v2h-1zM575 269h1v2h-1zM576 269h1v2h-1zM577 269h1v2h-1zM578 269h1v2h-1zM579 269h1v2h-1zM580 269h1v2h-1zM581 268h1v3h-1zM582 268h1v2h-1zM583 268h1v2h-1zM584 268h1v2h-1zM585 268h1v2h-1zM586 268h1v2h-1zM587 268h1v2h-1zM588 268h1v2h-1zM589 267h1v3h-1zM590 267h1v2h-1zM591 267h1v2h-1zM592 267h1v2h-1zM593 267h1v2h-1zM594 267h1v2h-1zM595 267h1v2h-1zM596 267h1v2h-1zM597 266h1v3h-1zM598 266h1v2h-1zM599 266h1v2h-1zM600 266h1v2h-1zM601 266h1v2h-1zM602 266h1v2h-1zM603 266h1v2h-1zM604 266h1v2h-1zM605 265h1v3h-1zM606 265h1v2h-1zM607 265h1v2h-1zM608 264h1v3h-1zM609 264h1v2h-1zM610 263h1v3h-1zM611 263h1v2h-1zM612 263h1v2h-1zM613 262h1v3h-1zM614 262h1v2h-1zM615 262h1v2h-1zM616 262h1v2h-1zM617 261h1v3h-1zM618 261h1v2h-1zM619 261h1v2h-1zM620 261h1v2h-1zM621 260h1v3h-1zM622 260h1v2h-1zM623 260h1v2h-1zM624 260h1v2h-1zM625 259h1v3h-1zM626 259h1v2h-1zM627 259h1v2h-1zM628 259h1v2h-1zM629 258h1v3h-1zM630 258h1v2h-1zM631 258h1v2h-1zM632 258h1v2h-1zM633 257h1v3h-1zM634 257h1v2h-1zM635 257h1v2h-1zM636 257h1v2h-1zM637 257h1v2h-1zM638 257h1v2h-1zM639 257h1v2h-1zM640 257h1v2h-1zM641 256h1v3h-1zM642 256h1v2h-1zM643 256h1v2h-1zM644 256h1v2h-1zM645 255h1v3h-1zM646 255h1v2h-1zM647 255h1v2h-1zM648 255h1v2h-1zM649 254h1v3h-1zM650 254h1v2h-1zM651 254h1v2h-1zM652 254h1v2h-1zM653 253h1v3h-1zM654 253h1v2h-1zM655 253h1v2h-1zM656 253h1v2h-1zM657 252h1v3h-1zM658 252h1v2h-1zM659 252h1v2h-1zM660 252h1v2h-1zM661 251h1v3h-1zM662 251h1v2h-1zM663 251h1v2h-1zM664 251h1v2h-1zM665 250h1v3h-1zM666 250h1v2h-1zM667 250h1v2h-1zM668 250h1v2h-1zM669 249h1v3h-1zM670 249h1v2h-1zM671 249h1v2h-1zM672 249h1v2h-1zM673 248h1v3h-1zM674 248h1v2h-1zM675 248h1v2h-1zM676 248h1v2h-1zM677 247h1v3h-1zM678 247h1v2h-1zM679 247h1v2h-1zM680 247h1v2h-1zM681 247h1v2h-1zM682 247h1v2h-1zM683 247h1v2h-1zM684 247h1v2h-1zM685 246h1v3h-1zM686 246h1v2h-1zM687 246h1v2h-1zM688 246h1v2h-1zM689 245h1v3h-1zM690 245h1v2h-1zM691 245h1v2h-1zM692 245h1v2h-1zM693 244h1v3h-1zM694 244h1v2h-1zM695 244h1v2h-1zM696 244h1v2h-1zM697 243h1v3h-1zM698 243h1v2h-1zM699 243h1v2h-1zM700 243h1v2h-1zM701 242h1v3h-1zM702 242h1v2h-1zM703 242h1v2h-1zM704 242h1v2h-1zM705 241h1v3h-1zM706 241h1v2h-1zM707 241h1v2h-1zM708 241h1v2h-1zM709 240h1v3h-1zM710 240h1v2h-1zM711 240h1v2h-1zM712 240h1v2h-1zM713 239h1v3h-1zM714 239h1v2h-1zM715 239h1v2h-1zM716 239h1v2h-1zM717 238h1v3h-1zM718 238h1v2h-1zM719 238h1v2h-1zM720 238h1v2h-1zM721 237h1v3h-1zM722 237h1v2h-1zM723 237h1v2h-1zM724 237h1v2h-1zM725 237h1v2h-1zM726 237h1v2h-1zM727 237h1v2h-1zM728 237h1v2h-1zM729 236h1v3h-1zM730 236h1v2h-1zM731 236h1v2h-1zM732 236h1v2h-1z" fill="#b8860b"/>
<rect x="211" y="30" width="546" height="2" fill="#000"/>
<rect x="211" y="90" width="546" height="2" fill="#000"/>
<rect x="211" y="151" width="546" height="2" fill="#000"/>
<rect x="211" y="189" width="546" height="2" fill="#000"/>
<rect x="211" y="219" width="546" height="2" fill="#000"/>
<rect x="211" y="249" width="546" height="2" fill="#000"/>
<rect x="211" y="258" width="546" height="2" fill="#000"/>
<rect x="211" y="293" width="546" height="2" fill="#000"/>
<rect x="211" y="348" width="546" height="2" fill="#000"/>
<path d="M211 349h1v1h-1zM212 348h1v1h-1zM213 348h1v1h-1zM217 345h1v1h-1zM218 345h1v1h-1zM219 344h1v1h-1zM223 342h1v1h-1zM224 341h1v1h-1zM225 341h1v1h-1zM229 338h1v1h-1zM230 338h1v1h-1zM231 337h1v1h-1zM235 335h1v1h-1zM236 334h1v1h-1zM237 334h1v1h-1zM241 331h1v1h-1zM242 331h1v1h-1zM243 330h1v1h-1zM247 328h1v1h-1zM248 327h1v1h-1zM249 327h1v1h-1zM253 324h1v1h-1zM254 324h1v1h-1zM255 323h1v1h-1zM259 321h1v1h-1zM260 320h1v1h-1zM261 320h1v1h-1zM265 317h1v1h-1zM266 317h1v1h-1zM267 316h1v1h-1zM271 314h1v1h-1zM272 313h1v1h-1zM273 313h1v1h-1zM277 310h1v1h-1zM278 310h1v1h-1zM279 309h1v1h-1zM283 307h1v1h-1zM284 306h1v1h-1zM285 306h1v1h-1zM289 303h1v1h-1zM290 303h1v1h-1zM291 302h1v1h-1zM295 300h1v1h-1zM296 299h1v1h-1zM297 299h1v1h-1zM301 296h1v1h-1zM302 296h1v1h-1zM303 295h1v1h-1zM307 293h1v1h-1zM308 292h1v1h-1zM309 292h1v1h-1zM313 289h1v1h-1zM314 289h1v1h-1zM315 288h1v1h-1zM319 286h1v1h-1zM320 285h1v1h-1zM321 285h1v1h-1zM325 282h1v1h-1zM326 282h1v1h-1zM327 281h1v1h-1zM331 279h1v1h-1zM332 278h1v1h-1zM333 277h1v1h-1zM337 275h1v1h-1zM338 275h1v1h-1zM339 274h1v1h-1zM343 272h1v1h-1zM344 271h1v1h-1zM345 270h1v1h-1zM349 268h1v1h-1zM350 267h1v1h-1zM351 267h1v1h-1zM355 265h1v1h-1zM356 264h1v1h-1zM357 263h1v1h-1zM361 261h1v1h-1zM362 260h1v1h-1zM363 260h1v1h-1zM367 258h1v1h-1zM368 257h1v1h-1zM369 256h1v1h-1zM373 254h1v1h-1zM374 253h1v1h-1zM375 253h1v1h-1zM379 250h1v1h-1zM380 250h1v1h-1zM381 249h1v1h-1zM385 247h1v1h-1zM386 246h1v1h-1zM387 246h1v1h-1zM391 243h1v1h-1zM392 243h1v1h-1zM393 242h1v1h-1zM397 240h1v1h-1zM398 239h1v1h-1zM399 239h1v1h-1zM403 236h1v1h-1zM404 236h1v1h-1zM405 235h1v1h-1zM409 233h1v1h-1zM410 232h1v1h-1zM411 232h1v1h-1zM415 229h1v1h-1zM416 229h1v1h-1zM417 228h1v1h-1zM421 226h1v1h-1zM422 225h1v1h-1zM423 225h1v1h-1zM427 222h1v1h-1zM428 222h1v1h-1zM429 221h1v1h-1zM433 219h1v1h-1zM434 218h1v1h-1zM435 218h1v1h-1zM439 215h1v1h-1zM440 215h1v1h-1zM441 214h1v1h-1zM445 212h1v1h-1zM446 211h1v1h-1zM447 211h1v1h-1zM451 208h1v1h-1zM452 208h1v1h-1zM453 207h1v1h-1zM457 205h1v1h-1zM458 204h1v1h-1zM459 204h1v1h-1zM463 201h1v1h-1zM464 201h1v1h-1zM465 200h1v1h-1zM469 198h1v1h-1zM470 197h1v1h-1zM471 197h1v1h-1zM475 194h1v1h-1zM476 194h1v1h-1zM477 193h1v1h-1zM481 191h1v1h-1zM482 190h1v1h-1zM483 190h1v1h-1zM487 187h1v1h-1zM488 187h1v1h-1zM489 186h1v1h-1zM493 184h1v1h-1zM494 183h1v1h-1zM495 182h1v1h-1zM499 180h1v1h-1zM500 180h1v1h-1zM501 179h1v1h-1zM505 177h1v1h-1zM506 176h1v1h-1zM507 175h1v1h-1zM511 173h1v1h-1zM512 173h1v1h-1zM513 172h1v1h-1zM517 170h1v1h-1zM518 169h1v1h-1zM519 168h1v1h-1zM523 166h1v1h-1zM524 165h1v1h-1zM525 165h1v1h-1zM529 163h1v1h-1zM530 162h1v1h-1zM531 161h1v1h-1zM535 159h1v1h-1zM536 158h1v1h-1zM537 158h1v1h-1zM541 156h1v1h-1zM542 155h1v1h-1zM543 154h1v1h-1zM547 152h1v1h-1zM548 151h1v1h-1zM549 151h1v1h-1zM553 148h1v1h-1zM554 148h1v1h-1zM555 147h1v1h-1zM559 145h1v1h-1zM560 144h1v1h-1zM561 144h1v1h-1zM565 141h1v1h-1zM566 141h1v1h-1zM567 140h1v1h-1zM571 138h1v1h-1zM572 137h1v1h-1zM573 137h1v1h-1zM577 134h1v1h-1zM578 134h1v1h-1zM579 133h1v1h-1zM583 131h1v1h-1zM584 130h1v1h-1zM585 130h1v1h-1zM589 127h1v1h-1zM590 127h1v1h-1zM591 126h1v1h-1zM595 124h1v1h-1zM596 123h1v1h-1zM597 123h1v1h-1zM601 120h1v1h-1zM602 120h1v1h-1zM603 119h1v1h-1zM607 117h1v1h-1zM608 116h1v1h-1zM609 116h1v1h-1zM613 113h1v1h-1zM614 113h1v1h-1zM615 112h1v1h-1zM619 110h1v1h-1zM620 109h1v1h-1zM621 109h1v1h-1zM625 106h1v1h-1zM626 106h1v1h-1zM627 105h1v1h-1zM631 103h1v1h-1zM632 102h1v1h-1zM633 102h1v1h-1zM637 99h1v1h-1zM638 99h1v1h-1zM639 98h1v1h-1zM643 96h1v1h-1zM644 95h1v1h-1zM645 95h1v1h-1zM649 92h1v1h-1zM650 92h1v1h-1zM651 91h1v1h-1z" fill="#ff0000"/>
<rect x="691" y="20" width="66" height="11" fill="#fff"/>
<text x="692.55" y="29" class="t" textLength="63.75" lengthAdjust="spacingAndGlyphs">-23.6 - 0.95802</text>
<rect x="699" y="80" width="58" height="11" fill="#fff"/>
<text x="700.91" y="89" class="t" textLength="55.39" lengthAdjust="spacingAndGlyphs">0.0 - 0.95339</text>
<rect x="694" y="141" width="63" height="11" fill="#fff"/>
<text x="695.68" y="150" class="t" textLength="60.62" lengthAdjust="spacingAndGlyphs">23.6 - 0.94876</text>
<rect x="694" y="179" width="63" height="11" fill="#fff"/>
<text x="695.68" y="188" class="t" textLength="60.62" lengthAdjust="spacingAndGlyphs">38.2 - 0.94590</text>
<rect x="694" y="209" width="63" height="11" fill="#fff"/>
<text x="695.68" y="218" class="t" textLength="60.62" lengthAdjust="spacingAndGlyphs">50.0 - 0.94358</text>
<rect x="694" y="239" width="63" height="11" fill="#fff"/>
<text x="695.68" y="248" class="t" textLength="60.62" lengthAdjust="spacingAndGlyphs">61.8 - 0.94126</text>
<rect x="694" y="248" width="63" height="11" fill="#fff"/>
<text x="695.68" y="257" class="t" textLength="60.62" lengthAdjust="spacingAndGlyphs">65.0 - 0.94064</text>
<rect x="694" y="283" width="63" height="11" fill="#fff"/>
<text x="695.68" y="292" class="t" textLength="60.62" lengthAdjust="spacingAndGlyphs">78.6 - 0.93797</text>
<rect x="689" y="338" width="68" height="11" fill="#fff"/>
<text x="690.45" y="347" class="t" textLength="65.85" lengthAdjust="spacingAndGlyphs">100.0 - 0.93377</text>
<rect x="3" y="255" width="1" height="22" fill="#008080"/>
<rect x="2" y="255" width="3" height="19" fill="#008080"/>
<rect x="7" y="237" width="1" height="24" fill="#008080"/>
<rect x="6" y="249" width="3" height="8" fill="#008080"/>
<rect x="11" y="228" width="1" height="24" fill="#008080"/>
<rect x="10" y="232" width="3" height="19" fill="#008080"/>
<rect x="15" y="230" width="1" height="18" fill="#dc143c"/>
<rect x="14" y="232" width="3" height="3" fill="#dc143c"/>
<rect x="19" y="219" width="1" height="16" fill="#008080"/>
<rect x="18" y="227" width="3" height="8" fill="#008080"/>
<rect x="23" y="218" width="1" height="16" fill="#dc143c"/>
<rect x="22" y="226" width="3" height="5" fill="#dc143c"/>
<rect x="27" y="218" width="1" height="17" fill="#dc143c"/>
<rect x="26" y="230" width="3" height="2" fill="#dc143c"/>
<rect x="31" y="212" width="1" height="30" fill="#008080"/>
<rect x="30" y="212" width="3" height="20" fill="#008080"/>
<rect x="35" y="199" width="1" height="28" fill="#008080"/>
<rect x="34" y="206" width="3" height="8" fill="#008080"/>
<rect x="39" y="191" width="1" height="43" fill="#dc143c"/>
<rect x="38" y="206" width="3" height="24" fill="#dc143c"/>
<rect x="43" y="211" width="1" height="28" fill="#008080"/>
<rect x="42" y="211" width="3" height="19" fill="#008080"/>
<rect x="47" y="207" width="1" height="11" fill="#dc143c"/>
<rect x="46" y="212" width="3" height="5" fill="#dc143c"/>
<rect x="51" y="212" width="1" height="10" fill="#008080"/>
<rect x="50" y="216" width="3" height="1" fill="#008080"/>
<rect x="55" y="207" width="1" height="11" fill="#008080"/>
<rect x="54" y="210" width="3" height="7" fill="#008080"/>
<rect x="59" y="210" width="1" height="11" fill="#dc143c"/>
<rect x="58" y="210" width="3" height="8" fill="#dc143c"/>
<rect x="63" y="200" width="1" height="20" fill="#2f4f4f"/>
<rect x="62" y="212" width="3" height="1" fill="#2f4f4f"/>
<rect x="67" y="206" width="1" height="10" fill="#008080"/>
<rect x="66" y="209" width="3" height="3" fill="#008080"/>
<rect x="71" y="195" width="1" height="15" fill="#008080"/>
<rect x="70" y="200" width="3" height="10" fill="#008080"/>
<rect x="75" y="196" width="1" height="9" fill="#dc143c"/>
<rect x="74" y="200" width="3" height="1" fill="#dc143c"/>
<rect x="79" y="192" width="1" height="10" fill="#008080"/>
<rect x="78" y="197" width="3" height="4" fill="#008080"/>
<rect x="83" y="196" width="1" height="11" fill="#dc143c"/>
<rect x="82" y="197" width="3" height="5" fill="#dc143c"/>
<rect x="87" y="197" width="1" height="8" fill="#008080"/>
<rect x="86" y="199" width="3" height="3" fill="#008080"/>
<rect x="91" y="196" width="1" height="7" fill="#dc143c"/>
<rect x="90" y="199" width="3" height="1" fill="#dc143c"/>
<rect x="95" y="196" width="1" height="14" fill="#dc143c"/>
<rect x="94" y="199" width="3" height="8" fill="#dc143c"/>
<rect x="99" y="200" width="1" height="16" fill="#008080"/>
<rect x="98" y="202" width="3" height="6" fill="#008080"/>
<rect x="103" y="186" width="1" height="16" fill="#008080"/>
<rect x="102" y="199" width="3" height="3" fill="#008080"/>
<rect x="107" y="187" width="1" height="13" fill="#008080"/>
<rect x="106" y="196" width="3" height="4" fill="#008080"/>
<rect x="111" y="191" width="1" height="10" fill="#008080"/>
<rect x="110" y="191" width="3" height="6" fill="#008080"/>
<rect x="115" y="180" width="1" height="19" fill="#dc143c"/>
<rect x="114" y="192" width="3" height="1" fill="#dc143c"/>
<rect x="119" y="179" width="1" height="14" fill="#008080"/>
<rect x="118" y="181" width="3" height="12" fill="#008080"/>
<rect x="123" y="172" width="1" height="16" fill="#dc143c"/>
<rect x="122" y="181" width="3" height="5" fill="#dc143c"/>
<rect x="127" y="159" width="1" height="31" fill="#008080"/>
<rect x="126" y="180" width="3" height="7" fill="#008080"/>
<rect x="131" y="149" width="1" height="41" fill="#008080"/>
<rect x="130" y="157" width="3" height="20" fill="#008080"/>
<rect x="135" y="151" width="1" height="42" fill="#dc143c"/>
<rect x="134" y="158" width="3" height="31" fill="#dc143c"/>
<rect x="139" y="182" width="1" height="14" fill="#008080"/>
<rect x="138" y="186" width="3" height="2" fill="#008080"/>
<rect x="143" y="169" width="1" height="22" fill="#008080"/>
<rect x="142" y="177" width="3" height="10" fill="#008080"/>
<rect x="147" y="175" width="1" height="67" fill="#dc143c"/>
<rect x="146" y="177" width="3" height="59" fill="#dc143c"/>
<rect x="151" y="230" width="1" height="26" fill="#dc143c"/>
<rect x="150" y="235" width="3" height="2" fill="#dc143c"/>
<rect x="155" y="237" width="1" height="11" fill="#dc143c"/>
<rect x="154" y="237" width="3" height="11" fill="#dc143c"/>
<rect x="159" y="242" width="1" height="10" fill="#dc143c"/>
<rect x="158" y="247" width="3" height="4" fill="#dc143c"/>
<rect x="163" y="241" width="1" height="11" fill="#008080"/>
<rect x="162" y="248" width="3" height="2" fill="#008080"/>
<rect x="167" y="236" width="1" height="13" fill="#008080"/>
<rect x="166" y="245" width="3" height="4" fill="#008080"/>
<rect x="171" y="239" width="1" height="18" fill="#dc143c"/>
<rect x="170" y="245" width="3" height="8" fill="#dc143c"/>
<rect x="175" y="250" width="1" height="8" fill="#dc143c"/>
<rect x="174" y="253" width="3" height="1" fill="#dc143c"/>
<rect x="179" y="253" width="1" height="15" fill="#dc143c"/>
<rect x="178" y="253" width="3" height="12" fill="#dc143c"/>
<rect x="183" y="264" width="1" height="7" fill="#dc143c"/>
<rect x="182" y="264" width="3" height="1" fill="#dc143c"/>
<rect x="187" y="264" width="1" height="21" fill="#dc143c"/>
<rect x="186" y="265" width="3" height="16" fill="#dc143c"/>
<rect x="191" y="269" width="1" height="15" fill="#008080"/>
<rect x="190" y="270" width="3" height="11" fill="#008080"/>
<rect x="195" y="262" width="1" height="13" fill="#dc143c"/>
<rect x="194" y="270" width="3" height="3" fill="#dc143c"/>
<rect x="199" y="265" width="1" height="34" fill="#dc143c"/>
<rect x="198" y="274" width="3" height="22" fill="#dc143c"/>
<rect x="203" y="289" width="1" height="25" fill="#dc143c"/>
<rect x="202" y="293" width="3" height="6" fill="#dc143c"/>
<rect x="207" y="293" width="1" height="21" fill="#dc143c"/>
<rect x="206" y="298" width="3" height="16" fill="#dc143c"/>
<rect x="211" y="310" width="1" height="39" fill="#dc143c"/>
<rect x="210" y="313" width="3" height="17" fill="#dc143c"/>
<rect x="215" y="325" width="1" height="16" fill="#008080"/>
<rect x="214" y="328" width="3" height="1" fill="#008080"/>
<rect x="219" y="317" width="1" height="23" fill="#008080"/>
<rect x="218" y="327" width="3" height="3" fill="#008080"/>
<rect x="223" y="311" width="1" height="23" fill="#008080"/>
<rect x="222" y="320" width="3" height="8" fill="#008080"/>
<rect x="227" y="290" width="1" height="48" fill="#008080"/>
<rect x="226" y="295" width="3" height="25" fill="#008080"/>
<rect x="231" y="288" width="1" height="23" fill="#dc143c"/>
<rect x="230" y="294" width="3" height="2" fill="#dc143c"/>
<rect x="235" y="283" width="1" height="19" fill="#008080"/>
<rect x="234" y="290" width="3" height="6" fill="#008080"/>
<rect x="239" y="290" width="1" height="17" fill="#dc143c"/>
<rect x="238" y="294" width="3" height="7" fill="#dc143c"/>
<rect x="243" y="294" width="1" height="22" fill="#dc143c"/>
<rect x="242" y="300" width="3" height="9" fill="#dc143c"/>
<rect x="247" y="301" width="1" height="11" fill="#008080"/>
<rect x="246" y="303" width="3" height="7" fill="#008080"/>
<rect x="251" y="295" width="1" height="11" fill="#008080"/>
<rect x="250" y="300" width="3" height="5" fill="#008080"/>
<rect x="255" y="288" width="1" height="51" fill="#008080"/>
<rect x="254" y="319" width="3" height="12" fill="#008080"/>
<rect x="259" y="294" width="1" height="26" fill="#008080"/>
<rect x="258" y="306" width="3" height="14" fill="#008080"/>
<rect x="263" y="302" width="1" height="22" fill="#dc143c"/>
<rect x="262" y="306" width="3" height="14" fill="#dc143c"/>
<rect x="267" y="316" width="1" height="11" fill="#008080"/>
<rect x="266" y="318" width="3" height="3" fill="#008080"/>
<rect x="271" y="314" width="1" height="10" fill="#008080"/>
<rect x="270" y="316" width="3" height="3" fill="#008080"/>
<rect x="275" y="312" width="1" height="12" fill="#dc143c"/>
<rect x="274" y="317" width="3" height="2" fill="#dc143c"/>
<rect x="279" y="316" width="1" height="5" fill="#008080"/>
<rect x="278" y="316" width="3" height="3" fill="#008080"/>
<rect x="283" y="311" width="1" height="11" fill="#008080"/>
<rect x="282" y="314" width="3" height="3" fill="#008080"/>
<rect x="287" y="300" width="1" height="17" fill="#008080"/>
<rect x="286" y="303" width="3" height="8" fill="#008080"/>
<rect x="291" y="290" width="1" height="24" fill="#008080"/>
<rect x="290" y="300" width="3" height="3" fill="#008080"/>
<rect x="295" y="296" width="1" height="30" fill="#dc143c"/>
<rect x="294" y="297" width="3" height="29" fill="#dc143c"/>
<rect x="299" y="316" width="1" height="14" fill="#008080"/>
<rect x="298" y="320" width="3" height="6" fill="#008080"/>
<rect x="303" y="304" width="1" height="23" fill="#008080"/>
<rect x="302" y="311" width="3" height="10" fill="#008080"/>
<rect x="307" y="292" width="1" height="20" fill="#008080"/>
<rect x="306" y="298" width="3" height="14" fill="#008080"/>
<rect x="311" y="276" width="1" height="23" fill="#008080"/>
<rect x="310" y="285" width="3" height="14" fill="#008080"/>
<rect x="315" y="282" width="1" height="17" fill="#dc143c"/>
<rect x="314" y="284" width="3" height="9" fill="#dc143c"/>
<rect x="319" y="280" width="1" height="18" fill="#dc143c"/>
<rect x="318" y="291" width="3" height="6" fill="#dc143c"/>
<rect x="323" y="282" width="1" height="18" fill="#008080"/>
<rect x="322" y="287" width="3" height="12" fill="#008080"/>
<rect x="327" y="265" width="1" height="25" fill="#008080"/>
<rect x="326" y="270" width="3" height="17" fill="#008080"/>
<rect x="331" y="264" width="1" height="20" fill="#008080"/>
<rect x="330" y="268" width="3" height="4" fill="#008080"/>
<rect x="335" y="262" width="1" height="12" fill="#008080"/>
<rect x="334" y="266" width="3" height="2" fill="#008080"/>
<rect x="339" y="260" width="1" height="9" fill="#008080"/>
<rect x="338" y="260" width="3" height="8" fill="#008080"/>
<rect x="343" y="257" width="1" height="13" fill="#dc143c"/>
<rect x="342" y="262" width="3" height="5" fill="#dc143c"/>
<rect x="347" y="263" width="1" height="9" fill="#dc143c"/>
<rect x="346" y="265" width="3" height="7" fill="#dc143c"/>
<rect x="351" y="265" width="1" height="10" fill="#008080"/>
<rect x="350" y="267" width="3" height="6" fill="#008080"/>
<rect x="355" y="267" width="1" height="5" fill="#dc143c"/>
<rect x="354" y="268" width="3" height="3" fill="#dc143c"/>
<rect x="359" y="265" width="1" height="15" fill="#dc143c"/>
<rect x="358" y="270" width="3" height="10" fill="#dc143c"/>
<rect x="363" y="277" width="1" height="10" fill="#dc143c"/>
<rect x="362" y="278" width="3" height="5" fill="#dc143c"/>
<rect x="367" y="272" width="1" height="12" fill="#008080"/>
<rect x="366" y="275" width="3" height="7" fill="#008080"/>
<rect x="371" y="274" width="1" height="8" fill="#dc143c"/>
<rect x="370" y="275" width="3" height="5" fill="#dc143c"/>
<rect x="375" y="272" width="1" height="8" fill="#008080"/>
<rect x="374" y="272" width="3" height="8" fill="#008080"/>
<rect x="379" y="270" width="1" height="8" fill="#dc143c"/>
<rect x="378" y="272" width="3" height="3" fill="#dc143c"/>
<rect x="383" y="260" width="1" height="20" fill="#008080"/>
<rect x="382" y="267" width="3" height="8" fill="#008080"/>
<rect x="387" y="243" width="1" height="30" fill="#008080"/>
<rect x="386" y="247" width="3" height="21" fill="#008080"/>
<rect x="391" y="245" width="1" height="20" fill="#dc143c"/>
<rect x="390" y="249" width="3" height="3" fill="#dc143c"/>
<rect x="395" y="251" width="1" height="23" fill="#dc143c"/>
<rect x="394" y="251" width="3" height="23" fill="#dc143c"/>
<rect x="399" y="259" width="1" height="16" fill="#008080"/>
<rect x="398" y="265" width="3" height="9" fill="#008080"/>
<rect x="403" y="255" width="1" height="42" fill="#dc143c"/>
<rect x="402" y="265" width="3" height="30" fill="#dc143c"/>
<rect x="407" y="285" width="1" height="26" fill="#dc143c"/>
<rect x="406" y="294" width="3" height="15" fill="#dc143c"/>
<rect x="411" y="300" width="1" height="21" fill="#dc143c"/>
<rect x="410" y="308" width="3" height="11" fill="#dc143c"/>
<rect x="415" y="282" width="1" height="36" fill="#008080"/>
<rect x="414" y="289" width="3" height="28" fill="#008080"/>
<rect x="419" y="269" width="1" height="29" fill="#008080"/>
<rect x="418" y="278" width="3" height="12" fill="#008080"/>
<rect x="423" y="277" width="1" height="30" fill="#dc143c"/>
<rect x="422" y="278" width="3" height="10" fill="#dc143c"/>
<rect x="427" y="263" width="1" height="26" fill="#008080"/>
<rect x="426" y="267" width="3" height="21" fill="#008080"/>
<rect x="431" y="265" width="1" height="15" fill="#dc143c"/>
<rect x="430" y="266" width="3" height="7" fill="#dc143c"/>
<rect x="435" y="255" width="1" height="23" fill="#008080"/>
<rect x="434" y="258" width="3" height="14" fill="#008080"/>
<rect x="439" y="252" width="1" height="11" fill="#008080"/>
<rect x="438" y="255" width="3" height="5" fill="#008080"/>
<rect x="443" y="255" width="1" height="7" fill="#dc143c"/>
<rect x="442" y="256" width="3" height="6" fill="#dc143c"/>
<rect x="447" y="258" width="1" height="48" fill="#dc143c"/>
<rect x="446" y="263" width="3" height="43" fill="#dc143c"/>
<rect x="451" y="285" width="1" height="27" fill="#008080"/>
<rect x="450" y="290" width="3" height="16" fill="#008080"/>
<rect x="455" y="287" width="1" height="17" fill="#dc143c"/>
<rect x="454" y="290" width="3" height="13" fill="#dc143c"/>
<rect x="459" y="289" width="1" height="15" fill="#008080"/>
<rect x="458" y="290" width="3" height="13" fill="#008080"/>
<rect x="463" y="288" width="1" height="18" fill="#dc143c"/>
<rect x="462" y="290" width="3" height="13" fill="#dc143c"/>
<rect x="467" y="300" width="1" height="12" fill="#dc143c"/>
<rect x="466" y="302" width="3" height="2" fill="#dc143c"/>
<rect x="471" y="299" width="1" height="10" fill="#008080"/>
<rect x="470" y="299" width="3" height="5" fill="#008080"/>
<rect x="475" y="299" width="1" height="9" fill="#dc143c"/>
<rect x="474" y="300" width="3" height="3" fill="#dc143c"/>
<rect x="479" y="301" width="1" height="24" fill="#dc143c"/>
<rect x="478" y="303" width="3" height="7" fill="#dc143c"/>
<rect x="483" y="266" width="1" height="44" fill="#008080"/>
<rect x="482" y="270" width="3" height="40" fill="#008080"/>
<rect x="487" y="264" width="1" height="21" fill="#dc143c"/>
<rect x="486" y="266" width="3" height="17" fill="#dc143c"/>
<rect x="491" y="280" width="1" height="30" fill="#dc143c"/>
<rect x="490" y="284" width="3" height="18" fill="#dc143c"/>
<rect x="495" y="289" width="1" height="26" fill="#008080"/>
<rect x="494" y="290" width="3" height="12" fill="#008080"/>
<rect x="499" y="274" width="1" height="19" fill="#008080"/>
<rect x="498" y="274" width="3" height="18" fill="#008080"/>
<rect x="503" y="255" width="1" height="21" fill="#008080"/>
<rect x="502" y="270" width="3" height="5" fill="#008080"/>
<rect x="507" y="251" width="1" height="22" fill="#008080"/>
<rect x="506" y="255" width="3" height="16" fill="#008080"/>
<rect x="511" y="232" width="1" height="28" fill="#008080"/>
<rect x="510" y="239" width="3" height="17" fill="#008080"/>
<rect x="515" y="217" width="1" height="29" fill="#dc143c"/>
<rect x="514" y="239" width="3" height="5" fill="#dc143c"/>
<rect x="519" y="224" width="1" height="21" fill="#008080"/>
<rect x="518" y="234" width="3" height="10" fill="#008080"/>
<rect x="523" y="216" width="1" height="30" fill="#008080"/>
<rect x="522" y="219" width="3" height="16" fill="#008080"/>
<rect x="527" y="212" width="1" height="20" fill="#dc143c"/>
<rect x="526" y="219" width="3" height="4" fill="#dc143c"/>
<rect x="531" y="213" width="1" height="14" fill="#008080"/>
<rect x="530" y="221" width="3" height="2" fill="#008080"/>
<rect x="535" y="217" width="1" height="13" fill="#dc143c"/>
<rect x="534" y="219" width="3" height="8" fill="#dc143c"/>
<rect x="539" y="223" width="1" height="9" fill="#008080"/>
<rect x="538" y="226" width="3" height="2" fill="#008080"/>
<rect x="543" y="218" width="1" height="17" fill="#008080"/>
<rect x="542" y="224" width="3" height="3" fill="#008080"/>
<rect x="547" y="222" width="1" height="10" fill="#008080"/>
<rect x="546" y="222" width="3" height="5" fill="#008080"/>
<rect x="551" y="218" width="1" height="8" fill="#008080"/>
<rect x="550" y="221" width="3" height="3" fill="#008080"/>
<rect x="555" y="214" width="1" height="13" fill="#dc143c"/>
<rect x="554" y="220" width="3" height="7" fill="#dc143c"/>
<rect x="559" y="223" width="1" height="9" fill="#008080"/>
<rect x="558" y="224" width="3" height="3" fill="#008080"/>
<rect x="563" y="219" width="1" height="11" fill="#dc143c"/>
<rect x="562" y="224" width="3" height="5" fill="#dc143c"/>
<rect x="567" y="222" width="1" height="8" fill="#008080"/>
<rect x="566" y="224" width="3" height="4" fill="#008080"/>
<rect x="571" y="222" width="1" height="6" fill="#008080"/>
<rect x="570" y="222" width="3" height="2" fill="#008080"/>
<rect x="575" y="220" width="1" height="10" fill="#dc143c"/>
<rect x="574" y="222" width="3" height="4" fill="#dc143c"/>
<rect x="579" y="222" width="1" height="18" fill="#dc143c"/>
<rect x="578" y="225" width="3" height="10" fill="#dc143c"/>
<rect x="583" y="206" width="1" height="29" fill="#008080"/>
<rect x="582" y="210" width="3" height="24" fill="#008080"/>
<rect x="587" y="199" width="1" height="13" fill="#008080"/>
<rect x="586" y="200" width="3" height="10" fill="#008080"/>
<rect x="591" y="194" width="1" height="13" fill="#008080"/>
<rect x="590" y="196" width="3" height="5" fill="#008080"/>
<rect x="595" y="175" width="1" height="22" fill="#008080"/>
<rect x="594" y="182" width="3" height="14" fill="#008080"/>
<rect x="599" y="181" width="1" height="42" fill="#dc143c"/>
<rect x="598" y="182" width="3" height="17" fill="#dc143c"/>
<rect x="603" y="180" width="1" height="46" fill="#008080"/>
<rect x="602" y="181" width="3" height="18" fill="#008080"/>
<rect x="607" y="167" width="1" height="25" fill="#008080"/>
<rect x="606" y="167" width="3" height="15" fill="#008080"/>
<rect x="611" y="148" width="1" height="33" fill="#008080"/>
<rect x="610" y="151" width="3" height="16" fill="#008080"/>
<rect x="615" y="132" width="1" height="25" fill="#008080"/>
<rect x="614" y="137" width="3" height="15" fill="#008080"/>
<rect x="619" y="134" width="1" height="10" fill="#dc143c"/>
<rect x="618" y="137" width="3" height="6" fill="#dc143c"/>
<rect x="623" y="122" width="1" height="22" fill="#008080"/>
<rect x="622" y="126" width="3" height="17" fill="#008080"/>
<rect x="627" y="110" width="1" height="19" fill="#008080"/>
<rect x="626" y="115" width="3" height="12" fill="#008080"/>
<rect x="631" y="112" width="1" height="14" fill="#dc143c"/>
<rect x="630" y="116" width="3" height="9" fill="#dc143c"/>
<rect x="635" y="121" width="1" height="5" fill="#dc143c"/>
<rect x="634" y="122" width="3" height="3" fill="#dc143c"/>
<rect x="639" y="121" width="1" height="15" fill="#008080"/>
<rect x="638" y="124" width="3" height="5" fill="#008080"/>
<rect x="643" y="116" width="1" height="13" fill="#008080"/>
<rect x="642" y="118" width="3" height="8" fill="#008080"/>
<rect x="647" y="104" width="1" height="19" fill="#008080"/>
<rect x="646" y="108" width="3" height="10" fill="#008080"/>
<rect x="651" y="91" width="1" height="18" fill="#008080"/>
<rect x="650" y="99" width="3" height="10" fill="#008080"/>
<rect x="655" y="97" width="1" height="19" fill="#dc143c"/>
<rect x="654" y="99" width="3" height="16" fill="#dc143c"/>
<rect x="659" y="108" width="1" height="10" fill="#008080"/>
<rect x="658" y="111" width="3" height="3" fill="#008080"/>
<rect x="663" y="104" width="1" height="10" fill="#008080"/>
<rect x="662" y="108" width="3" height="3" fill="#008080"/>
<rect x="667" y="107" width="1" height="7" fill="#dc143c"/>
<rect x="666" y="108" width="3" height="5" fill="#dc143c"/>
<rect x="671" y="107" width="1" height="9" fill="#dc143c"/>
<rect x="670" y="112" width="3" height="4" fill="#dc143c"/>
<rect x="675" y="108" width="1" height="13" fill="#dc143c"/>
<rect x="674" y="115" width="3" height="6" fill="#dc143c"/>
<rect x="679" y="102" width="1" height="23" fill="#dc143c"/>
<rect x="678" y="121" width="3" height="1" fill="#dc143c"/>
<rect x="683" y="121" width="1" height="23" fill="#dc143c"/>
<rect x="682" y="122" width="3" height="13" fill="#dc143c"/>
<rect x="687" y="129" width="1" height="14" fill="#008080"/>
<rect x="686" y="132" width="3" height="3" fill="#008080"/>
<rect x="691" y="119" width="1" height="15" fill="#008080"/>
<rect x="690" y="124" width="3" height="9" fill="#008080"/>
<rect x="695" y="118" width="1" height="11" fill="#008080"/>
<rect x="694" y="121" width="3" height="5" fill="#008080"/>
<rect x="699" y="101" width="1" height="40" fill="#dc143c"/>
<rect x="698" y="121" width="3" height="12" fill="#dc143c"/>
<rect x="703" y="122" width="1" height="22" fill="#008080"/>
<rect x="702" y="129" width="3" height="3" fill="#008080"/>
<rect x="707" y="122" width="1" height="24" fill="#dc143c"/>
<rect x="706" y="129" width="3" height="7" fill="#dc143c"/>
<rect x="711" y="131" width="1" height="22" fill="#dc143c"/>
<rect x="710" y="136" width="3" height="10" fill="#dc143c"/>
<rect x="715" y="134" width="1" height="18" fill="#008080"/>
<rect x="714" y="137" width="3" height="9" fill="#008080"/>
<rect x="719" y="123" width="1" height="19" fill="#008080"/>
<rect x="718" y="124" width="3" height="13" fill="#008080"/>
<rect x="723" y="121" width="1" height="9" fill="#dc143c"/>
<rect x="722" y="124" width="3" height="2" fill="#dc143c"/>
<rect x="727" y="117" width="1" height="12" fill="#008080"/>
<rect x="726" y="122" width="3" height="5" fill="#008080"/>
<rect x="731" y="117" width="1" height="6" fill="#008080"/>
<rect x="730" y="122" width="3" height="1" fill="#008080"/>
<path d="M63 454h1v1h-1zM63 458h1v3h-1zM63 464h1v3h-1zM63 470h1v3h-1zM63 476h1v3h-1zM63 482h1v3h-1zM63 488h1v3h-1zM63 494h1v3h-1zM63 500h1v3h-1zM63 506h1v3h-1zM63 512h1v3h-1z" fill="#000"/>
<path d="M159 454h1v1h-1zM159 458h1v3h-1zM159 464h1v3h-1zM159 470h1v3h-1zM159 476h1v3h-1zM159 482h1v3h-1zM159 488h1v3h-1zM159 494h1v3h-1zM159 500h1v3h-1zM159 506h1v3h-1zM159 512h1v3h-1z" fill="#000"/>
<path d="M255 454h1v1h-1zM255 458h1v3h-1zM255 464h1v3h-1zM255 470h1v3h-1zM255 476h1v3h-1zM255 482h1v3h-1zM255 488h1v3h-1zM255 494h1v3h-1zM255 500h1v3h-1zM255 506h1v3h-1zM255 512h1v3h-1z" fill="#000"/>
<path d="M351 454h1v1h-1zM351 458h1v3h-1zM351 464h1v3h-1zM351 470h1v3h-1zM351 476h1v3h-1zM351 482h1v3h-1zM351 488h1v3h-1zM351 494h1v3h-1zM351 500h1v3h-1zM351 506h1v3h-1zM351 512h1v3h-1z" fill="#000"/>
<path d="M447 454h1v1h-1zM447 458h1v3h-1zM447 464h1v3h-1zM447 470h1v3h-1zM447 476h1v3h-1zM447 482h1v3h-1zM447 488h1v3h-1zM447 494h1v3h-1zM447 500h1v3h-1zM447 506h1v3h-1zM447 512h1v3h-1z" fill="#000"/>
<path d="M543 454h1v1h-1zM543 458h1v3h-1zM543 464h1v3h-1zM543 470h1v3h-1zM543 476h1v3h-1zM543 482h1v3h-1zM543 488h1v3h-1zM543 494h1v3h-1zM543 500h1v3h-1zM543 506h1v3h-1zM543 512h1v3h-1z" fill="#000"/>
<path d="M639 454h1v1h-1zM639 458h1v3h-1zM639 464h1v3h-1zM639 470h1v3h-1zM639 476h1v3h-1zM639 482h1v3h-1zM639 488h1v3h-1zM639 494h1v3h-1zM639 500h1v3h-1zM639 506h1v3h-1zM639 512h1v3h-1z" fill="#000"/>
<path d="M735 454h1v1h-1zM735 458h1v3h-1zM735 464h1v3h-1zM735 470h1v3h-1zM735 476h1v3h-1zM735 482h1v3h-1zM735 488h1v3h-1zM735 494h1v3h-1zM735 500h1v3h-1zM735 506h1v3h-1zM735 512h1v3h-1z" fill="#000"/>
<rect x="2" y="478" width="3" height="8" fill="#008080"/>
<rect x="6" y="477" width="3" height="9" fill="#008080"/>
<rect x="10" y="475" width="3" height="11" fill="#008080"/>
<rect x="14" y="474" width="3" height="12" fill="#008080"/>
<rect x="18" y="473" width="3" height="13" fill="#008080"/>
<rect x="22" y="472" width="3" height="14" fill="#008080"/>
<rect x="26" y="471" width="3" height="15" fill="#008080"/>
<rect x="30" y="470" width="3" height="16" fill="#008080"/>
<rect x="34" y="469" width="3" height="17" fill="#008080"/>
<rect x="38" y="470" width="3" height="16" fill="#008080"/>
<rect x="42" y="469" width="3" height="17" fill="#008080"/>
<rect x="46" y="469" width="3" height="17" fill="#008080"/>
<rect x="50" y="470" width="3" height="16" fill="#008080"/>
<rect x="54" y="471" width="3" height="15" fill="#008080"/>
<rect x="58" y="471" width="3" height="15" fill="#008080"/>
<rect x="62" y="471" width="3" height="15" fill="#008080"/>
<rect x="66" y="471" width="3" height="15" fill="#008080"/>
<rect x="70" y="471" width="3" height="15" fill="#008080"/>
<rect x="74" y="471" width="3" height="15" fill="#008080"/>
<rect x="78" y="471" width="3" height="15" fill="#008080"/>
<rect x="82" y="471" width="3" height="15" fill="#008080"/>
<rect x="86" y="472" width="3" height="14" fill="#008080"/>
<rect x="90" y="472" width="3" height="14" fill="#008080"/>
<rect x="94" y="473" width="3" height="13" fill="#008080"/>
<rect x="98" y="473" width="3" height="13" fill="#008080"/>
<rect x="102" y="474" width="3" height="12" fill="#008080"/>
<rect x="106" y="474" width="3" height="12" fill="#008080"/>
<rect x="110" y="474" width="3" height="12" fill="#008080"/>
<rect x="114" y="474" width="3" height="12" fill="#008080"/>
<rect x="118" y="474" width="3" height="12" fill="#008080"/>
<rect x="122" y="474" width="3" height="12" fill="#008080"/>
<rect x="126" y="474" width="3" height="12" fill="#008080"/>
<rect x="130" y="472" width="3" height="14" fill="#008080"/>
<rect x="134" y="474" width="3" height="12" fill="#008080"/>
<rect x="138" y="474" width="3" height="12" fill="#008080"/>
<rect x="142" y="475" width="3" height="11" fill="#008080"/>
<rect x="146" y="478" width="3" height="8" fill="#008080"/>
<rect x="150" y="482" width="3" height="4" fill="#008080"/>
<rect x="158" y="486" width="3" height="4" fill="#008080"/>
<rect x="162" y="486" width="3" height="6" fill="#008080"/>
<rect x="166" y="486" width="3" height="8" fill="#008080"/>
<rect x="170" y="486" width="3" height="9" fill="#008080"/>
<rect x="174" y="486" width="3" height="11" fill="#008080"/>
<rect x="178" y="486" width="3" height="12" fill="#008080"/>
<rect x="182" y="486" width="3" height="14" fill="#008080"/>
<rect x="186" y="486" width="3" height="15" fill="#008080"/>
<rect x="190" y="486" width="3" height="16" fill="#008080"/>
<rect x="194" y="486" width="3" height="17" fill="#008080"/>
<rect x="198" y="486" width="3" height="18" fill="#008080"/>
<rect x="202" y="486" width="3" height="20" fill="#008080"/>
<rect x="206" y="486" width="3" height="22" fill="#008080"/>
<rect x="210" y="486" width="3" height="24" fill="#008080"/>
<rect x="214" y="486" width="3" height="26" fill="#008080"/>
<rect x="218" y="486" width="3" height="27" fill="#008080"/>
<rect x="222" y="486" width="3" height="27" fill="#008080"/>
<rect x="226" y="486" width="3" height="24" fill="#008080"/>
<rect x="230" y="486" width="3" height="22" fill="#008080"/>
<rect x="234" y="486" width="3" height="21" fill="#008080"/>
<rect x="238" y="486" width="3" height="19" fill="#008080"/>
<rect x="242" y="486" width="3" height="19" fill="#008080"/>
<rect x="246" y="486" width="3" height="18" fill="#008080"/>
<rect x="250" y="486" width="3" height="17" fill="#008080"/>
<rect x="254" y="486" width="3" height="17" fill="#008080"/>
<rect x="258" y="486" width="3" height="16" fill="#008080"/>
<rect x="262" y="486" width="3" height="16" fill="#008080"/>
<rect x="266" y="486" width="3" height="16" fill="#008080"/>
<rect x="270" y="486" width="3" height="15" fill="#008080"/>
<rect x="274" y="486" width="3" height="15" fill="#008080"/>
<rect x="278" y="486" width="3" height="14" fill="#008080"/>
<rect x="282" y="486" width="3" height="13" fill="#008080"/>
<rect x="286" y="486" width="3" height="12" fill="#008080"/>
<rect x="290" y="486" width="3" height="10" fill="#008080"/>
<rect x="294" y="486" width="3" height="11" fill="#008080"/>
<rect x="298" y="486" width="3" height="11" fill="#008080"/>
<rect x="302" y="486" width="3" height="10" fill="#008080"/>
<rect x="306" y="486" width="3" height="8" fill="#008080"/>
<rect x="310" y="486" width="3" height="6" fill="#008080"/>
<rect x="314" y="486" width="3" height="5" fill="#008080"/>
<rect x="318" y="486" width="3" height="4" fill="#008080"/>
<rect x="322" y="486" width="3" height="2" fill="#008080"/>
<rect x="326" y="485" width="3" height="1" fill="#008080"/>
<rect x="330" y="483" width="3" height="3" fill="#008080"/>
<rect x="334" y="482" width="3" height="4" fill="#008080"/>
<rect x="338" y="480" width="3" height="6" fill="#008080"/>
<rect x="342" y="479" width="3" height="7" fill="#008080"/>
<rect x="346" y="479" width="3" height="7" fill="#008080"/>
<rect x="350" y="479" width="3" height="7" fill="#008080"/>
<rect x="354" y="479" width="3" height="7" fill="#008080"/>
<rect x="358" y="479" width="3" height="7" fill="#008080"/>
<rect x="362" y="480" width="3" height="6" fill="#008080"/>
<rect x="366" y="481" width="3" height="5" fill="#008080"/>
<rect x="370" y="481" width="3" height="5" fill="#008080"/>
<rect x="374" y="481" width="3" height="5" fill="#008080"/>
<rect x="378" y="481" width="3" height="5" fill="#008080"/>
<rect x="382" y="481" width="3" height="5" fill="#008080"/>
<rect x="386" y="481" width="3" height="5" fill="#008080"/>
<rect x="390" y="481" width="3" height="5" fill="#008080"/>
<rect x="394" y="481" width="3" height="5" fill="#008080"/>
<rect x="398" y="481" width="3" height="5" fill="#008080"/>
<rect x="402" y="482" width="3" height="4" fill="#008080"/>
<rect x="406" y="485" width="3" height="1" fill="#008080"/>
<rect x="410" y="486" width="3" height="3" fill="#008080"/>
<rect x="414" y="486" width="3" height="3" fill="#008080"/>
<rect x="418" y="486" width="3" height="3" fill="#008080"/>
<rect x="422" y="486" width="3" height="3" fill="#008080"/>
<rect x="434" y="484" width="3" height="2" fill="#008080"/>
<rect x="438" y="483" width="3" height="3" fill="#008080"/>
<rect x="442" y="482" width="3" height="4" fill="#008080"/>
<rect x="454" y="486" width="3" height="3" fill="#008080"/>
<rect x="458" y="486" width="3" height="3" fill="#008080"/>
<rect x="462" y="486" width="3" height="4" fill="#008080"/>
<rect x="466" y="486" width="3" height="5" fill="#008080"/>
<rect x="470" y="486" width="3" height="6" fill="#008080"/>
<rect x="474" y="486" width="3" height="6" fill="#008080"/>
<rect x="478" y="486" width="3" height="7" fill="#008080"/>
<rect x="482" y="486" width="3" height="3" fill="#008080"/>
<rect x="486" y="486" width="3" height="3" fill="#008080"/>
<rect x="490" y="486" width="3" height="3" fill="#008080"/>
<rect x="494" y="486" width="3" height="3" fill="#008080"/>
<rect x="498" y="486" width="3" height="3" fill="#008080"/>
<rect x="506" y="484" width="3" height="2" fill="#008080"/>
<rect x="510" y="481" width="3" height="5" fill="#008080"/>
<rect x="514" y="479" width="3" height="7" fill="#008080"/>
<rect x="518" y="477" width="3" height="9" fill="#008080"/>
<rect x="522" y="475" width="3" height="11" fill="#008080"/>
<rect x="526" y="473" width="3" height="13" fill="#008080"/>
<rect x="530" y="472" width="3" height="14" fill="#008080"/>
<rect x="534" y="471" width="3" height="15" fill="#008080"/>
<rect x="538" y="471" width="3" height="15" fill="#008080"/>
<rect x="542" y="471" width="3" height="15" fill="#008080"/>
<rect x="546" y="471" width="3" height="15" fill="#008080"/>
<rect x="550" y="472" width="3" height="14" fill="#008080"/>
<rect x="554" y="472" width="3" height="14" fill="#008080"/>
<rect x="558" y="473" width="3" height="13" fill="#008080"/>
<rect x="562" y="473" width="3" height="13" fill="#008080"/>
<rect x="566" y="473" width="3" height="13" fill="#008080"/>
<rect x="570" y="474" width="3" height="12" fill="#008080"/>
<rect x="574" y="474" width="3" height="12" fill="#008080"/>
<rect x="578" y="476" width="3" height="10" fill="#008080"/>
<rect x="582" y="475" width="3" height="11" fill="#008080"/>
<rect x="586" y="474" width="3" height="12" fill="#008080"/>
<rect x="590" y="473" width="3" height="13" fill="#008080"/>
<rect x="594" y="471" width="3" height="15" fill="#008080"/>
<rect x="598" y="471" width="3" height="15" fill="#008080"/>
<rect x="602" y="471" width="3" height="15" fill="#008080"/>
<rect x="606" y="469" width="3" height="17" fill="#008080"/>
<rect x="610" y="467" width="3" height="19" fill="#008080"/>
<rect x="614" y="464" width="3" height="22" fill="#008080"/>
<rect x="618" y="463" width="3" height="23" fill="#008080"/>
<rect x="622" y="461" width="3" height="25" fill="#008080"/>
<rect x="626" y="459" width="3" height="27" fill="#008080"/>
<rect x="630" y="458" width="3" height="28" fill="#008080"/>
<rect x="634" y="458" width="3" height="28" fill="#008080"/>
<rect x="638" y="458" width="3" height="28" fill="#008080"/>
<rect x="642" y="458" width="3" height="28" fill="#008080"/>
<rect x="646" y="458" width="3" height="28" fill="#008080"/>
<rect x="650" y="457" width="3" height="29" fill="#008080"/>
<rect x="654" y="457" width="3" height="29" fill="#008080"/>
<rect x="658" y="457" width="3" height="29" fill="#008080"/>
<rect x="662" y="459" width="3" height="27" fill="#008080"/>
<rect x="666" y="461" width="3" height="25" fill="#008080"/>
<rect x="670" y="462" width="3" height="24" fill="#008080"/>
<rect x="674" y="464" width="3" height="22" fill="#008080"/>
<rect x="678" y="466" width="3" height="20" fill="#008080"/>
<rect x="682" y="468" width="3" height="18" fill="#008080"/>
<rect x="686" y="470" width="3" height="16" fill="#008080"/>
<rect x="690" y="471" width="3" height="15" fill="#008080"/>
<rect x="694" y="472" width="3" height="14" fill="#008080"/>
<rect x="698" y="474" width="3" height="12" fill="#008080"/>
<rect x="702" y="475" width="3" height="11" fill="#008080"/>
<rect x="706" y="477" width="3" height="9" fill="#008080"/>
<rect x="710" y="479" width="3" height="7" fill="#008080"/>
<rect x="714" y="480" width="3" height="6" fill="#008080"/>
<rect x="718" y="480" width="3" height="6" fill="#008080"/>
<rect x="722" y="480" width="3" height="6" fill="#008080"/>
<rect x="726" y="480" width="3" height="6" fill="#008080"/>
<rect x="730" y="480" width="3" height="6" fill="#008080"/>
<path d="M4 486h3v1h-3zM10 486h3v1h-3zM16 486h3v1h-3zM22 486h3v1h-3zM28 486h3v1h-3zM34 486h3v1h-3zM40 486h3v1h-3zM46 486h3v1h-3zM52 486h3v1h-3zM58 486h3v1h-3zM64 486h3v1h-3zM70 486h3v1h-3zM76 486h3v1h-3zM82 486h3v1h-3zM88 486h3v1h-3zM94 486h3v1h-3zM100 486h3v1h-3zM106 486h3v1h-3zM112 486h3v1h-3zM118 486h3v1h-3zM124 486h3v1h-3zM130 486h3v1h-3zM136 486h3v1h-3zM142 486h3v1h-3zM148 486h3v1h-3zM154 486h3v1h-3zM160 486h3v1h-3zM166 486h3v1h-3zM172 486h3v1h-3zM178 486h3v1h-3zM184 486h3v1h-3zM190 486h3v1h-3zM196 486h3v1h-3zM202 486h3v1h-3zM208 486h3v1h-3zM214 486h3v1h-3zM220 486h3v1h-3zM226 486h3v1h-3zM232 486h3v1h-3zM238 486h3v1h-3zM244 486h3v1h-3zM250 486h3v1h-3zM256 486h3v1h-3zM262 486h3v1h-3zM268 486h3v1h-3zM274 486h3v1h-3zM280 486h3v1h-3zM286 486h3v1h-3zM292 486h3v1h-3zM298 486h3v1h-3zM304 486h3v1h-3zM310 486h3v1h-3zM316 486h3v1h-3zM322 486h3v1h-3zM328 486h3v1h-3zM334 486h3v1h-3zM340 486h3v1h-3zM346 486h3v1h-3zM352 486h3v1h-3zM358 486h3v1h-3zM364 486h3v1h-3zM370 486h3v1h-3zM376 486h3v1h-3zM382 486h3v1h-3zM388 486h3v1h-3zM394 486h3v1h-3zM400 486h3v1h-3zM406 486h3v1h-3zM412 486h3v1h-3zM418 486h3v1h-3zM424 486h3v1h-3zM430 486h3v1h-3zM436 486h3v1h-3zM442 486h3v1h-3zM448 486h3v1h-3zM454 486h3v1h-3zM460 486h3v1h-3zM466 486h3v1h-3zM472 486h3v1h-3zM478 486h3v1h-3zM484 486h3v1h-3zM490 486h3v1h-3zM496 486h3v1h-3zM502 486h3v1h-3zM508 486h3v1h-3zM514 486h3v1h-3zM520 486h3v1h-3zM526 486h3v1h-3zM532 486h3v1h-3zM538 486h3v1h-3zM544 486h3v1h-3zM550 486h3v1h-3zM556 486h3v1h-3zM562 486h3v1h-3zM568 486h3v1h-3zM574 486h3v1h-3zM580 486h3v1h-3zM586 486h3v1h-3zM592 486h3v1h-3zM598 486h3v1h-3zM604 486h3v1h-3zM610 486h3v1h-3zM616 486h3v1h-3zM622 486h3v1h-3zM628 486h3v1h-3zM634 486h3v1h-3zM640 486h3v1h-3zM646 486h3v1h-3zM652 486h3v1h-3zM658 486h3v1h-3zM664 486h3v1h-3zM670 486h3v1h-3zM676 486h3v1h-3zM682 486h3v1h-3zM688 486h3v1h-3zM694 486h3v1h-3zM700 486h3v1h-3zM706 486h3v1h-3zM712 486h3v1h-3zM718 486h3v1h-3zM724 486h3v1h-3zM730 486h3v1h-3zM736 486h3v1h-3zM742 486h3v1h-3zM748 486h3v1h-3zM754 486h3v1h-3z" fill="#808080"/>
<path d="M3 478h1v2h-1zM4 478h1v2h-1zM5 477h1v3h-1zM6 477h1v2h-1zM7 477h1v2h-1zM8 477h1v2h-1zM9 477h1v2h-1zM10 477h1v2h-1zM11 477h1v2h-1zM12 477h1v2h-1zM13 476h1v3h-1zM14 476h1v2h-1zM15 476h1v2h-1zM16 476h1v2h-1zM17 476h1v2h-1zM18 476h1v2h-1zM19 476h1v2h-1zM20 476h1v2h-1zM21 475h1v3h-1zM22 475h1v2h-1zM23 475h1v2h-1zM24 475h1v2h-1zM25 474h1v3h-1zM26 474h1v2h-1zM27 474h1v2h-1zM28 474h1v2h-1zM29 473h1v3h-1zM30 473h1v2h-1zM31 473h1v2h-1zM32 473h1v2h-1zM33 472h1v3h-1zM34 472h1v2h-1zM35 472h1v2h-1zM36 472h1v2h-1zM37 471h1v3h-1zM38 471h1v2h-1zM39 471h1v2h-1zM40 471h1v2h-1zM41 470h1v3h-1zM42 470h1v2h-1zM43 470h1v2h-1zM44 470h1v2h-1zM45 469h1v3h-1zM46 469h1v2h-1zM47 469h1v2h-1zM48 469h1v2h-1zM49 469h1v2h-1zM50 469h1v2h-1zM51 469h1v2h-1zM52 469h1v2h-1zM53 469h1v2h-1zM54 469h1v2h-1zM55 469h1v2h-1zM56 469h1v2h-1zM57 469h1v2h-1zM58 469h1v2h-1zM59 469h1v2h-1zM60 469h1v2h-1zM61 469h1v2h-1zM62 469h1v2h-1zM63 469h1v2h-1zM64 469h1v2h-1zM65 469h1v2h-1zM66 469h1v2h-1zM67 469h1v2h-1zM68 469h1v2h-1zM69 469h1v2h-1zM70 469h1v2h-1zM71 469h1v2h-1zM72 469h1v2h-1zM73 469h1v2h-1zM74 469h1v2h-1zM75 469h1v2h-1zM76 469h1v2h-1zM77 469h1v2h-1zM78 469h1v2h-1zM79 469h1v2h-1zM80 469h1v2h-1zM81 469h1v2h-1zM82 469h1v2h-1zM83 469h1v2h-1zM84 469h1v2h-1zM85 469h1v2h-1zM86 469h1v2h-1zM87 469h1v2h-1zM88 469h1v2h-1zM89 469h1v3h-1zM90 470h1v2h-1zM91 470h1v2h-1zM92 470h1v2h-1zM93 470h1v2h-1zM94 470h1v2h-1zM95 470h1v2h-1zM96 470h1v2h-1zM97 470h1v2h-1zM98 470h1v2h-1zM99 470h1v2h-1zM100 470h1v2h-1zM101 470h1v2h-1zM102 470h1v2h-1zM103 470h1v2h-1zM104 470h1v2h-1zM105 470h1v3h-1zM106 471h1v2h-1zM107 471h1v2h-1zM108 471h1v2h-1zM109 471h1v3h-1zM110 472h1v2h-1zM111 472h1v2h-1zM112 472h1v2h-1zM113 472h1v2h-1zM114 472h1v2h-1zM115 472h1v2h-1zM116 472h1v2h-1zM117 472h1v2h-1zM118 472h1v2h-1zM119 472h1v2h-1zM120 472h1v2h-1zM121 472h1v3h-1zM122 473h1v2h-1zM123 473h1v2h-1zM124 473h1v2h-1zM125 473h1v2h-1zM126 473h1v2h-1zM127 473h1v2h-1zM128 473h1v2h-1zM129 473h1v2h-1zM130 473h1v2h-1zM131 473h1v2h-1zM132 473h1v2h-1zM133 473h1v2h-1zM134 473h1v2h-1zM135 473h1v2h-1zM136 473h1v2h-1zM137 473h1v2h-1zM138 473h1v2h-1zM139 473h1v2h-1zM140 473h1v2h-1zM141 473h1v2h-1zM142 473h1v2h-1zM143 473h1v2h-1zM144 473h1v2h-1zM145 473h1v2h-1zM146 473h1v2h-1zM147 473h1v2h-1zM148 473h1v2h-1zM149 473h1v3h-1zM150 474h1v2h-1zM151 474h1v2h-1zM152 474h1v2h-1zM153 474h1v3h-1zM154 475h1v2h-1zM155 475h1v2h-1zM156 475h1v3h-1zM157 476h1v2h-1zM158 476h1v3h-1zM159 477h1v2h-1zM160 477h1v3h-1zM161 478h1v2h-1zM162 478h1v3h-1zM163 479h1v2h-1zM164 479h1v3h-1zM165 480h1v2h-1zM166 480h1v3h-1zM167 481h1v2h-1zM168 481h1v3h-1zM169 482h1v3h-1zM170 483h1v2h-1zM171 483h1v3h-1zM172 484h1v3h-1zM173 485h1v3h-1zM174 486h1v3h-1zM175 487h1v3h-1zM176 488h1v3h-1zM177 489h1v3h-1zM178 490h1v2h-1zM179 490h1v3h-1zM180 491h1v3h-1zM181 492h1v2h-1zM182 492h1v3h-1zM183 493h1v2h-1zM184 493h1v2h-1zM185 493h1v3h-1zM186 494h1v2h-1zM187 494h1v2h-1zM188 494h1v3h-1zM189 495h1v2h-1zM190 495h1v3h-1zM191 496h1v2h-1zM192 496h1v2h-1zM193 496h1v3h-1zM194 497h1v2h-1zM195 497h1v2h-1zM196 497h1v2h-1zM197 497h1v3h-1zM198 498h1v2h-1zM199 498h1v2h-1zM200 498h1v3h-1zM201 499h1v2h-1zM202 499h1v3h-1zM203 500h1v2h-1zM204 500h1v2h-1zM205 500h1v3h-1zM206 501h1v2h-1zM207 501h1v2h-1zM208 501h1v2h-1zM209 501h1v3h-1zM210 502h1v2h-1zM211 502h1v2h-1zM212 502h1v2h-1zM213 502h1v3h-1zM214 503h1v2h-1zM215 503h1v2h-1zM216 503h1v3h-1zM217 504h1v2h-1zM218 504h1v3h-1zM219 505h1v2h-1zM220 505h1v3h-1zM221 506h1v2h-1zM222 506h1v3h-1zM223 507h1v2h-1zM224 507h1v2h-1zM225 507h1v2h-1zM226 507h1v2h-1zM227 507h1v2h-1zM228 507h1v2h-1zM229 507h1v3h-1zM230 508h1v2h-1zM231 508h1v2h-1zM232 508h1v2h-1zM233 508h1v2h-1zM234 508h1v2h-1zM235 508h1v2h-1zM236 508h1v2h-1zM237 508h1v2h-1zM238 508h1v2h-1zM239 508h1v2h-1zM240 508h1v2h-1zM241 508h1v2h-1zM242 508h1v2h-1zM243 508h1v2h-1zM244 508h1v2h-1zM245 507h1v3h-1zM246 507h1v2h-1zM247 507h1v2h-1zM248 507h1v2h-1zM249 507h1v2h-1zM250 507h1v2h-1zM251 507h1v2h-1zM252 506h1v3h-1zM253 505h1v3h-1zM254 505h1v2h-1zM255 504h1v3h-1zM256 504h1v2h-1zM257 503h1v3h-1zM258 503h1v2h-1zM259 503h1v2h-1zM260 503h1v2h-1zM261 502h1v3h-1zM262 502h1v2h-1zM263 502h1v2h-1zM264 502h1v2h-1zM265 502h1v2h-1zM266 502h1v2h-1zM267 502h1v2h-1zM268 502h1v2h-1zM269 501h1v3h-1zM270 501h1v2h-1zM271 501h1v2h-1zM272 501h1v2h-1zM273 500h1v3h-1zM274 500h1v2h-1zM275 500h1v2h-1zM276 500h1v2h-1zM277 500h1v2h-1zM278 500h1v2h-1zM279 500h1v2h-1zM280 500h1v2h-1zM281 500h1v2h-1zM282 500h1v2h-1zM283 500h1v2h-1zM284 500h1v2h-1zM285 499h1v3h-1zM286 499h1v2h-1zM287 499h1v2h-1zM288 499h1v2h-1zM289 498h1v3h-1zM290 498h1v2h-1zM291 498h1v2h-1zM292 498h1v2h-1zM293 498h1v2h-1zM294 498h1v2h-1zM295 498h1v2h-1zM296 498h1v2h-1zM297 497h1v3h-1zM298 497h1v2h-1zM299 497h1v2h-1zM300 497h1v2h-1zM301 496h1v3h-1zM302 496h1v2h-1zM303 496h1v2h-1zM304 496h1v2h-1zM305 496h1v2h-1zM306 496h1v2h-1zM307 496h1v2h-1zM308 496h1v2h-1zM309 495h1v3h-1zM310 495h1v2h-1zM311 495h1v2h-1zM312 495h1v2h-1zM313 494h1v3h-1zM314 494h1v2h-1zM315 494h1v2h-1zM316 493h1v3h-1zM317 493h1v2h-1zM318 492h1v3h-1zM319 492h1v2h-1zM320 492h1v2h-1zM321 491h1v3h-1zM322 491h1v2h-1zM323 491h1v2h-1zM324 491h1v2h-1zM325 490h1v3h-1zM326 490h1v2h-1zM327 490h1v2h-1zM328 490h1v2h-1zM329 489h1v3h-1zM330 489h1v2h-1zM331 489h1v2h-1zM332 488h1v3h-1zM333 488h1v2h-1zM334 487h1v3h-1zM335 487h1v2h-1zM336 487h1v2h-1zM337 486h1v3h-1zM338 486h1v2h-1zM339 486h1v2h-1zM340 485h1v3h-1zM341 485h1v2h-1zM342 484h1v3h-1zM343 484h1v2h-1zM344 484h1v2h-1zM345 483h1v3h-1zM346 483h1v2h-1zM347 483h1v2h-1zM348 483h1v2h-1zM349 482h1v3h-1zM350 482h1v2h-1zM351 482h1v2h-1zM352 482h1v2h-1zM353 481h1v3h-1zM354 481h1v2h-1zM355 481h1v2h-1zM356 480h1v3h-1zM357 480h1v2h-1zM358 479h1v3h-1zM359 479h1v2h-1zM360 479h1v2h-1zM361 479h1v2h-1zM362 479h1v2h-1zM363 479h1v2h-1zM364 479h1v2h-1zM365 479h1v2h-1zM366 479h1v2h-1zM367 479h1v2h-1zM368 479h1v2h-1zM369 479h1v2h-1zM370 479h1v2h-1zM371 479h1v2h-1zM372 479h1v2h-1zM373 479h1v2h-1zM374 479h1v2h-1zM375 479h1v2h-1zM376 479h1v2h-1zM377 479h1v2h-1zM378 479h1v2h-1zM379 479h1v2h-1zM380 479h1v2h-1zM381 479h1v2h-1zM382 479h1v2h-1zM383 479h1v2h-1zM384 479h1v2h-1zM385 479h1v2h-1zM386 479h1v2h-1zM387 479h1v2h-1zM388 479h1v2h-1zM389 479h1v2h-1zM390 479h1v2h-1zM391 479h1v2h-1zM392 479h1v2h-1zM393 479h1v2h-1zM394 479h1v2h-1zM395 479h1v2h-1zM396 479h1v2h-1zM397 479h1v2h-1zM398 479h1v2h-1zM399 479h1v2h-1zM400 479h1v2h-1zM401 479h1v2h-1zM402 479h1v2h-1zM403 479h1v2h-1zM404 479h1v2h-1zM405 479h1v3h-1zM406 480h1v2h-1zM407 480h1v2h-1zM408 480h1v2h-1zM409 480h1v2h-1zM410 480h1v2h-1zM411 480h1v2h-1zM412 480h1v2h-1zM413 480h1v3h-1zM414 481h1v2h-1zM415 481h1v2h-1zM416 481h1v2h-1zM417 481h1v3h-1zM418 482h1v2h-1zM419 482h1v2h-1zM420 482h1v2h-1zM421 482h1v3h-1zM422 483h1v2h-1zM423 483h1v2h-1zM424 483h1v2h-1zM425 483h1v3h-1zM426 484h1v2h-1zM427 484h1v2h-1zM428 484h1v2h-1zM429 484h1v3h-1zM430 485h1v2h-1zM431 485h1v2h-1zM432 485h1v2h-1zM433 485h1v2h-1zM434 485h1v2h-1zM435 485h1v2h-1zM436 485h1v2h-1zM437 485h1v2h-1zM438 485h1v2h-1zM439 485h1v2h-1zM440 485h1v2h-1zM441 485h1v2h-1zM442 485h1v2h-1zM443 485h1v2h-1zM444 485h1v2h-1zM445 485h1v2h-1zM446 485h1v2h-1zM447 485h1v2h-1zM448 485h1v2h-1zM449 484h1v3h-1zM450 484h1v2h-1zM451 484h1v2h-1zM452 484h1v2h-1zM453 484h1v2h-1zM454 484h1v2h-1zM455 484h1v2h-1zM456 484h1v2h-1zM457 484h1v2h-1zM458 484h1v2h-1zM459 484h1v2h-1zM460 484h1v2h-1zM461 484h1v3h-1zM462 485h1v2h-1zM463 485h1v2h-1zM464 485h1v2h-1zM465 485h1v2h-1zM466 485h1v2h-1zM467 485h1v2h-1zM468 485h1v2h-1zM469 485h1v3h-1zM470 486h1v2h-1zM471 486h1v2h-1zM472 486h1v2h-1zM473 486h1v3h-1zM474 487h1v2h-1zM475 487h1v2h-1zM476 487h1v2h-1zM477 487h1v3h-1zM478 488h1v2h-1zM479 488h1v2h-1zM480 488h1v2h-1zM481 488h1v3h-1zM482 489h1v2h-1zM483 489h1v2h-1zM484 489h1v2h-1zM485 489h1v2h-1zM486 489h1v2h-1zM487 489h1v2h-1zM488 489h1v2h-1zM489 489h1v2h-1zM490 489h1v2h-1zM491 489h1v2h-1zM492 489h1v2h-1zM493 489h1v2h-1zM494 489h1v2h-1zM495 489h1v2h-1zM496 489h1v2h-1zM497 489h1v2h-1zM498 489h1v2h-1zM499 489h1v2h-1zM500 489h1v2h-1zM501 489h1v2h-1zM502 489h1v2h-1zM503 489h1v2h-1zM504 489h1v2h-1zM505 489h1v2h-1zM506 489h1v2h-1zM507 489h1v2h-1zM508 489h1v2h-1zM509 488h1v3h-1zM510 488h1v2h-1zM511 488h1v2h-1zM512 487h1v3h-1zM513 487h1v2h-1zM514 486h1v3h-1zM515 486h1v2h-1zM516 485h1v3h-1zM517 485h1v2h-1zM518 484h1v3h-1zM519 484h1v2h-1zM520 484h1v2h-1zM521 483h1v3h-1zM522 483h1v2h-1zM523 483h1v2h-1zM524 482h1v3h-1zM525 482h1v2h-1zM526 481h1v3h-1zM527 481h1v2h-1zM528 480h1v3h-1zM529 480h1v2h-1zM530 479h1v3h-1zM531 479h1v2h-1zM532 478h1v3h-1zM533 478h1v2h-1zM534 477h1v3h-1zM535 477h1v2h-1zM536 476h1v3h-1zM537 476h1v2h-1zM538 475h1v3h-1zM539 475h1v2h-1zM540 474h1v3h-1zM541 474h1v2h-1zM542 473h1v3h-1zM543 473h1v2h-1zM544 473h1v2h-1zM545 472h1v3h-1zM546 472h1v2h-1zM547 472h1v2h-1zM548 472h1v2h-1zM549 471h1v3h-1zM550 471h1v2h-1zM551 471h1v2h-1zM552 471h1v2h-1zM553 471h1v2h-1zM554 471h1v2h-1zM555 471h1v2h-1zM556 471h1v2h-1zM557 471h1v2h-1zM558 471h1v2h-1zM559 471h1v2h-1zM560 471h1v2h-1zM561 471h1v2h-1zM562 471h1v2h-1zM563 471h1v2h-1zM564 471h1v2h-1zM565 471h1v2h-1zM566 471h1v2h-1zM567 471h1v2h-1zM568 471h1v2h-1zM569 471h1v2h-1zM570 471h1v2h-1zM571 471h1v2h-1zM572 471h1v2h-1zM573 471h1v2h-1zM574 471h1v2h-1zM575 471h1v2h-1zM576 471h1v2h-1zM577 471h1v2h-1zM578 471h1v2h-1zM579 471h1v2h-1zM580 471h1v2h-1zM581 471h1v3h-1zM582 472h1v2h-1zM583 472h1v2h-1zM584 472h1v2h-1zM585 472h1v2h-1zM586 472h1v2h-1zM587 472h1v2h-1zM588 472h1v2h-1zM589 472h1v3h-1zM590 473h1v2h-1zM591 473h1v2h-1zM592 473h1v2h-1zM593 473h1v2h-1zM594 473h1v2h-1zM595 473h1v2h-1zM596 473h1v2h-1zM597 473h1v2h-1zM598 473h1v2h-1zM599 473h1v2h-1zM600 473h1v2h-1zM601 473h1v2h-1zM602 473h1v2h-1zM603 473h1v2h-1zM604 473h1v2h-1zM605 472h1v3h-1zM606 472h1v2h-1zM607 472h1v2h-1zM608 472h1v2h-1zM609 471h1v3h-1zM610 471h1v2h-1zM611 471h1v2h-1zM612 471h1v2h-1zM613 470h1v3h-1zM614 470h1v2h-1zM615 470h1v2h-1zM616 469h1v3h-1zM617 469h1v2h-1zM618 468h1v3h-1zM619 468h1v2h-1zM620 468h1v2h-1zM621 467h1v3h-1zM622 467h1v2h-1zM623 467h1v2h-1zM624 466h1v3h-1zM625 466h1v2h-1zM626 465h1v3h-1zM627 465h1v2h-1zM628 465h1v2h-1zM629 464h1v3h-1zM630 464h1v2h-1zM631 464h1v2h-1zM632 464h1v2h-1zM633 463h1v3h-1zM634 463h1v2h-1zM635 463h1v2h-1zM636 463h1v2h-1zM637 462h1v3h-1zM638 462h1v2h-1zM639 462h1v2h-1zM640 462h1v2h-1zM641 461h1v3h-1zM642 461h1v2h-1zM643 461h1v2h-1zM644 460h1v3h-1zM645 460h1v2h-1zM646 459h1v3h-1zM647 459h1v2h-1zM648 459h1v2h-1zM649 458h1v3h-1zM650 458h1v2h-1zM651 458h1v2h-1zM652 458h1v2h-1zM653 457h1v3h-1zM654 457h1v2h-1zM655 457h1v2h-1zM656 457h1v2h-1zM657 457h1v2h-1zM658 457h1v2h-1zM659 457h1v2h-1zM660 457h1v2h-1zM661 457h1v2h-1zM662 457h1v2h-1zM663 457h1v2h-1zM664 457h1v2h-1zM665 457h1v3h-1zM666 458h1v2h-1zM667 458h1v2h-1zM668 458h1v2h-1zM669 458h1v2h-1zM670 458h1v2h-1zM671 458h1v2h-1zM672 458h1v2h-1zM673 458h1v3h-1zM674 459h1v2h-1zM675 459h1v2h-1zM676 459h1v2h-1zM677 459h1v3h-1zM678 460h1v2h-1zM679 460h1v2h-1zM680 460h1v2h-1zM681 460h1v3h-1zM682 461h1v2h-1zM683 461h1v2h-1zM684 461h1v2h-1zM685 461h1v3h-1zM686 462h1v2h-1zM687 462h1v2h-1zM688 462h1v3h-1zM689 463h1v2h-1zM690 463h1v3h-1zM691 464h1v2h-1zM692 464h1v2h-1zM693 464h1v3h-1zM694 465h1v2h-1zM695 465h1v2h-1zM696 465h1v2h-1zM697 465h1v3h-1zM698 466h1v2h-1zM699 466h1v2h-1zM700 466h1v3h-1zM701 467h1v2h-1zM702 467h1v3h-1zM703 468h1v2h-1zM704 468h1v3h-1zM705 469h1v2h-1zM706 469h1v3h-1zM707 470h1v2h-1zM708 470h1v3h-1zM709 471h1v2h-1zM710 471h1v3h-1zM711 472h1v2h-1zM712 472h1v2h-1zM713 472h1v3h-1zM714 473h1v2h-1zM715 473h1v2h-1zM716 473h1v2h-1zM717 473h1v3h-1zM718 474h1v2h-1zM719 474h1v2h-1zM720 474h1v2h-1zM721 474h1v3h-1zM722 475h1v2h-1zM723 475h1v2h-1zM724 475h1v2h-1zM725 475h1v3h-1zM726 476h1v2h-1zM727 476h1v2h-1zM728 476h1v2h-1zM729 476h1v3h-1zM730 477h1v2h-1zM731 477h1v2h-1zM732 477h1v2h-1z" fill="#dc143c"/>
<path d="M63 518h1v3h-1zM63 524h1v3h-1zM63 530h1v3h-1zM63 536h1v3h-1zM63 542h1v3h-1zM63 548h1v3h-1zM63 554h1v3h-1zM63 560h1v3h-1zM63 566h1v3h-1zM63 572h1v3h-1zM63 578h1v1h-1z" fill="#000"/>
<path d="M159 518h1v3h-1zM159 524h1v3h-1zM159 530h1v3h-1zM159 536h1v3h-1zM159 542h1v3h-1zM159 548h1v3h-1zM159 554h1v3h-1zM159 560h1v3h-1zM159 566h1v3h-1zM159 572h1v3h-1zM159 578h1v1h-1z" fill="#000"/>
<path d="M255 518h1v3h-1zM255 524h1v3h-1zM255 530h1v3h-1zM255 536h1v3h-1zM255 542h1v3h-1zM255 548h1v3h-1zM255 554h1v3h-1zM255 560h1v3h-1zM255 566h1v3h-1zM255 572h1v3h-1zM255 578h1v1h-1z" fill="#000"/>
<path d="M351 518h1v3h-1zM351 524h1v3h-1zM351 530h1v3h-1zM351 536h1v3h-1zM351 542h1v3h-1zM351 548h1v3h-1zM351 554h1v3h-1zM351 560h1v3h-1zM351 566h1v3h-1zM351 572h1v3h-1zM351 578h1v1h-1z" fill="#000"/>
<path d="M447 518h1v3h-1zM447 524h1v3h-1zM447 530h1v3h-1zM447 536h1v3h-1zM447 542h1v3h-1zM447 548h1v3h-1zM447 554h1v3h-1zM447 560h1v3h-1zM447 566h1v3h-1zM447 572h1v3h-1zM447 578h1v1h-1z" fill="#000"/>
<path d="M543 518h1v3h-1zM543 524h1v3h-1zM543 530h1v3h-1zM543 536h1v3h-1zM543 542h1v3h-1zM543 548h1v3h-1zM543 554h1v3h-1zM543 560h1v3h-1zM543 566h1v3h-1zM543 572h1v3h-1zM543 578h1v1h-1z" fill="#000"/>
<path d="M639 518h1v3h-1zM639 524h1v3h-1zM639 530h1v3h-1zM639 536h1v3h-1zM639 542h1v3h-1zM639 548h1v3h-1zM639 554h1v3h-1zM639 560h1v3h-1zM639 566h1v3h-1zM639 572h1v3h-1zM639 578h1v1h-1z" fill="#000"/>
<path d="M735 518h1v3h-1zM735 524h1v3h-1zM735 530h1v3h-1zM735 536h1v3h-1zM735 542h1v3h-1zM735 548h1v3h-1zM735 554h1v3h-1zM735 560h1v3h-1zM735 566h1v3h-1zM735 572h1v3h-1zM735 578h1v1h-1z" fill="#000"/>
<path d="M4 536h3v1h-3zM10 536h3v1h-3zM16 536h3v1h-3zM22 536h3v1h-3zM28 536h3v1h-3zM34 536h3v1h-3zM40 536h3v1h-3zM46 536h3v1h-3zM52 536h3v1h-3zM58 536h3v1h-3zM64 536h3v1h-3zM70 536h3v1h-3zM76 536h3v1h-3zM82 536h3v1h-3zM88 536h3v1h-3zM94 536h3v1h-3zM100 536h3v1h-3zM106 536h3v1h-3zM112 536h3v1h-3zM118 536h3v1h-3zM124 536h3v1h-3zM130 536h3v1h-3zM136 536h3v1h-3zM142 536h3v1h-3zM148 536h3v1h-3zM154 536h3v1h-3zM160 536h3v1h-3zM166 536h3v1h-3zM172 536h3v1h-3zM178 536h3v1h-3zM184 536h3v1h-3zM190 536h3v1h-3zM196 536h3v1h-3zM202 536h3v1h-3zM208 536h3v1h-3zM214 536h3v1h-3zM220 536h3v1h-3zM226 536h3v1h-3zM232 536h3v1h-3zM238 536h3v1h-3zM244 536h3v1h-3zM250 536h3v1h-3zM256 536h3v1h-3zM262 536h3v1h-3zM268 536h3v1h-3zM274 536h3v1h-3zM280 536h3v1h-3zM286 536h3v1h-3zM292 536h3v1h-3zM298 536h3v1h-3zM304 536h3v1h-3zM310 536h3v1h-3zM316 536h3v1h-3zM322 536h3v1h-3zM328 536h3v1h-3zM334 536h3v1h-3zM340 536h3v1h-3zM346 536h3v1h-3zM352 536h3v1h-3zM358 536h3v1h-3zM364 536h3v1h-3zM370 536h3v1h-3zM376 536h3v1h-3zM382 536h3v1h-3zM388 536h3v1h-3zM394 536h3v1h-3zM400 536h3v1h-3zM406 536h3v1h-3zM412 536h3v1h-3zM418 536h3v1h-3zM424 536h3v1h-3zM430 536h3v1h-3zM436 536h3v1h-3zM442 536h3v1h-3zM448 536h3v1h-3zM454 536h3v1h-3zM460 536h3v1h-3zM466 536h3v1h-3zM472 536h3v1h-3zM478 536h3v1h-3zM484 536h3v1h-3zM490 536h3v1h-3zM496 536h3v1h-3zM502 536h3v1h-3zM508 536h3v1h-3zM514 536h3v1h-3zM520 536h3v1h-3zM526 536h3v1h-3zM532 536h3v1h-3zM538 536h3v1h-3zM544 536h3v1h-3zM550 536h3v1h-3zM556 536h3v1h-3zM562 536h3v1h-3zM568 536h3v1h-3zM574 536h3v1h-3zM580 536h3v1h-3zM586 536h3v1h-3zM592 536h3v1h-3zM598 536h3v1h-3zM604 536h3v1h-3zM610 536h3v1h-3zM616 536h3v1h-3zM622 536h3v1h-3zM628 536h3v1h-3zM634 536h3v1h-3zM640 536h3v1h-3zM646 536h3v1h-3zM652 536h3v1h-3zM658 536h3v1h-3zM664 536h3v1h-3zM670 536h3v1h-3zM676 536h3v1h-3zM682 536h3v1h-3zM688 536h3v1h-3zM694 536h3v1h-3zM700 536h3v1h-3zM706 536h3v1h-3zM712 536h3v1h-3zM718 536h3v1h-3zM724 536h3v1h-3zM730 536h3v1h-3zM736 536h3v1h-3zM742 536h3v1h-3zM748 536h3v1h-3zM754 536h3v1h-3z" fill="#006400"/>
<path d="M4 560h3v1h-3zM10 560h3v1h-3zM16 560h3v1h-3zM22 560h3v1h-3zM28 560h3v1h-3zM34 560h3v1h-3zM40 560h3v1h-3zM46 560h3v1h-3zM52 560h3v1h-3zM58 560h3v1h-3zM64 560h3v1h-3zM70 560h3v1h-3zM76 560h3v1h-3zM82 560h3v1h-3zM88 560h3v1h-3zM94 560h3v1h-3zM100 560h3v1h-3zM106 560h3v1h-3zM112 560h3v1h-3zM118 560h3v1h-3zM124 560h3v1h-3zM130 560h3v1h-3zM136 560h3v1h-3zM142 560h3v1h-3zM148 560h3v1h-3zM154 560h3v1h-3zM160 560h3v1h-3zM166 560h3v1h-3zM172 560h3v1h-3zM178 560h3v1h-3zM184 560h3v1h-3zM190 560h3v1h-3zM196 560h3v1h-3zM202 560h3v1h-3zM208 560h3v1h-3zM214 560h3v1h-3zM220 560h3v1h-3zM226 560h3v1h-3zM232 560h3v1h-3zM238 560h3v1h-3zM244 560h3v1h-3zM250 560h3v1h-3zM256 560h3v1h-3zM262 560h3v1h-3zM268 560h3v1h-3zM274 560h3v1h-3zM280 560h3v1h-3zM286 560h3v1h-3zM292 560h3v1h-3zM298 560h3v1h-3zM304 560h3v1h-3zM310 560h3v1h-3zM316 560h3v1h-3zM322 560h3v1h-3zM328 560h3v1h-3zM334 560h3v1h-3zM340 560h3v1h-3zM346 560h3v1h-3zM352 560h3v1h-3zM358 560h3v1h-3zM364 560h3v1h-3zM370 560h3v1h-3zM376 560h3v1h-3zM382 560h3v1h-3zM388 560h3v1h-3zM394 560h3v1h-3zM400 560h3v1h-3zM406 560h3v1h-3zM412 560h3v1h-3zM418 560h3v1h-3zM424 560h3v1h-3zM430 560h3v1h-3zM436 560h3v1h-3zM442 560h3v1h-3zM448 560h3v1h-3zM454 560h3v1h-3zM460 560h3v1h-3zM466 560h3v1h-3zM472 560h3v1h-3zM478 560h3v1h-3zM484 560h3v1h-3zM490 560h3v1h-3zM496 560h3v1h-3zM502 560h3v1h-3zM508 560h3v1h-3zM514 560h3v1h-3zM520 560h3v1h-3zM526 560h3v1h-3zM532 560h3v1h-3zM538 560h3v1h-3zM544 560h3v1h-3zM550 560h3v1h-3zM556 560h3v1h-3zM562 560h3v1h-3zM568 560h3v1h-3zM574 560h3v1h-3zM580 560h3v1h-3zM586 560h3v1h-3zM592 560h3v1h-3zM598 560h3v1h-3zM604 560h3v1h-3zM610 560h3v1h-3zM616 560h3v1h-3zM622 560h3v1h-3zM628 560h3v1h-3zM634 560h3v1h-3zM640 560h3v1h-3zM646 560h3v1h-3zM652 560h3v1h-3zM658 560h3v1h-3zM664 560h3v1h-3zM670 560h3v1h-3zM676 560h3v1h-3zM682 560h3v1h-3zM688 560h3v1h-3zM694 560h3v1h-3zM700 560h3v1h-3zM706 560h3v1h-3zM712 560h3v1h-3zM718 560h3v1h-3zM724 560h3v1h-3zM730 560h3v1h-3zM736 560h3v1h-3zM742 560h3v1h-3zM748 560h3v1h-3zM754 560h3v1h-3z" fill="#006400"/>
<path d="M3 539h1v2h-1zM4 538h1v3h-1zM5 538h1v2h-1zM6 537h1v3h-1zM7 537h1v2h-1zM8 536h1v3h-1zM9 536h1v2h-1zM10 535h1v3h-1zM11 535h1v2h-1zM12 535h1v2h-1zM13 534h1v3h-1zM14 534h1v2h-1zM15 534h1v2h-1zM16 534h1v2h-1zM17 534h1v2h-1zM18 534h1v2h-1zM19 534h1v2h-1zM20 534h1v2h-1zM21 534h1v3h-1zM22 535h1v2h-1zM23 535h1v2h-1zM24 535h1v2h-1zM25 534h1v3h-1zM26 534h1v2h-1zM27 534h1v2h-1zM28 534h1v2h-1zM29 533h1v3h-1zM30 533h1v2h-1zM31 533h1v2h-1zM32 533h1v2h-1zM33 532h1v3h-1zM34 532h1v2h-1zM35 532h1v2h-1zM36 532h1v4h-1zM37 533h1v5h-1zM38 535h1v5h-1zM39 537h1v4h-1zM40 539h1v2h-1zM41 538h1v3h-1zM42 538h1v2h-1zM43 538h1v2h-1zM44 538h1v2h-1zM45 538h1v2h-1zM46 538h1v2h-1zM47 538h1v2h-1zM48 538h1v2h-1zM49 538h1v3h-1zM50 539h1v2h-1zM51 539h1v2h-1zM52 539h1v2h-1zM53 538h1v3h-1zM54 538h1v2h-1zM55 538h1v2h-1zM56 538h1v2h-1zM57 538h1v3h-1zM58 539h1v2h-1zM59 539h1v2h-1zM60 539h1v2h-1zM61 539h1v3h-1zM62 540h1v2h-1zM63 540h1v2h-1zM64 540h1v2h-1zM65 539h1v3h-1zM66 539h1v2h-1zM67 539h1v2h-1zM68 538h1v3h-1zM69 538h1v2h-1zM70 537h1v3h-1zM71 537h1v2h-1zM72 537h1v2h-1zM73 537h1v2h-1zM74 537h1v2h-1zM75 537h1v2h-1zM76 537h1v2h-1zM77 537h1v2h-1zM78 537h1v2h-1zM79 537h1v2h-1zM80 537h1v2h-1zM81 537h1v3h-1zM82 538h1v2h-1zM83 538h1v2h-1zM84 538h1v2h-1zM85 538h1v2h-1zM86 538h1v2h-1zM87 538h1v2h-1zM88 538h1v2h-1zM89 538h1v2h-1zM90 538h1v2h-1zM91 538h1v2h-1zM92 538h1v3h-1zM93 539h1v2h-1zM94 539h1v3h-1zM95 540h1v2h-1zM96 540h1v2h-1zM97 540h1v3h-1zM98 541h1v2h-1zM99 541h1v2h-1zM100 541h1v2h-1zM101 540h1v3h-1zM102 540h1v2h-1zM103 540h1v2h-1zM104 540h1v2h-1zM105 539h1v3h-1zM106 539h1v2h-1zM107 539h1v2h-1zM108 539h1v2h-1zM109 538h1v3h-1zM110 538h1v2h-1zM111 538h1v2h-1zM112 537h1v3h-1zM113 537h1v2h-1zM114 536h1v3h-1zM115 536h1v2h-1zM116 536h1v2h-1zM117 535h1v3h-1zM118 535h1v2h-1zM119 535h1v2h-1zM120 535h1v3h-1zM121 536h1v2h-1zM122 536h1v3h-1zM123 537h1v2h-1zM124 536h1v3h-1zM125 536h1v2h-1zM126 535h1v3h-1zM127 535h1v2h-1zM128 534h1v3h-1zM129 533h1v3h-1zM130 533h1v2h-1zM131 532h1v3h-1zM132 532h1v6h-1zM133 534h1v6h-1zM134 537h1v6h-1zM135 539h1v6h-1zM136 542h1v3h-1zM137 543h1v2h-1zM138 543h1v2h-1zM139 543h1v2h-1zM140 543h1v2h-1zM141 542h1v3h-1zM142 542h1v2h-1zM143 542h1v3h-1zM144 542h1v6h-1zM145 544h1v7h-1zM146 547h1v7h-1zM147 550h1v6h-1zM148 553h1v3h-1zM149 554h1v2h-1zM150 554h1v2h-1zM151 554h1v2h-1zM152 554h1v3h-1zM153 555h1v2h-1zM154 555h1v3h-1zM155 556h1v2h-1zM156 556h1v2h-1zM157 556h1v2h-1zM158 556h1v2h-1zM159 556h1v2h-1zM160 556h1v2h-1zM161 556h1v2h-1zM162 556h1v2h-1zM163 556h1v2h-1zM164 556h1v2h-1zM165 556h1v2h-1zM166 556h1v2h-1zM167 556h1v2h-1zM168 556h1v2h-1zM169 556h1v2h-1zM170 556h1v2h-1zM171 556h1v2h-1zM172 556h1v2h-1zM173 556h1v2h-1zM174 556h1v2h-1zM175 556h1v2h-1zM176 556h1v3h-1zM177 557h1v2h-1zM178 557h1v3h-1zM179 558h1v2h-1zM180 558h1v2h-1zM181 558h1v2h-1zM182 558h1v2h-1zM183 558h1v2h-1zM184 558h1v3h-1zM185 559h1v3h-1zM186 560h1v2h-1zM187 560h1v3h-1zM188 560h1v3h-1zM189 559h1v3h-1zM190 559h1v2h-1zM191 558h1v3h-1zM192 558h1v2h-1zM193 558h1v2h-1zM194 558h1v2h-1zM195 558h1v2h-1zM196 558h1v3h-1zM197 559h1v2h-1zM198 559h1v3h-1zM199 560h1v2h-1zM200 560h1v2h-1zM201 560h1v3h-1zM202 561h1v2h-1zM203 561h1v2h-1zM204 561h1v3h-1zM205 562h1v2h-1zM206 562h1v3h-1zM207 563h1v2h-1zM208 563h1v3h-1zM209 564h1v2h-1zM210 564h1v3h-1zM211 565h1v2h-1zM212 565h1v2h-1zM213 565h1v2h-1zM214 565h1v2h-1zM215 565h1v2h-1zM216 565h1v2h-1zM217 565h1v2h-1zM218 565h1v2h-1zM219 565h1v2h-1zM220 564h1v3h-1zM221 563h1v3h-1zM222 562h1v3h-1zM223 561h1v3h-1zM224 559h1v4h-1zM225 557h1v5h-1zM226 555h1v5h-1zM227 553h1v5h-1zM228 553h1v3h-1zM229 553h1v2h-1zM230 553h1v2h-1zM231 553h1v2h-1zM232 553h1v2h-1zM233 553h1v2h-1zM234 553h1v2h-1zM235 553h1v2h-1zM236 553h1v2h-1zM237 553h1v3h-1zM238 554h1v2h-1zM239 554h1v2h-1zM240 554h1v2h-1zM241 554h1v3h-1zM242 555h1v2h-1zM243 555h1v2h-1zM244 555h1v2h-1zM245 554h1v3h-1zM246 554h1v2h-1zM247 554h1v2h-1zM248 554h1v2h-1zM249 553h1v3h-1zM250 553h1v2h-1zM251 553h1v2h-1zM252 553h1v3h-1zM253 554h1v3h-1zM254 555h1v2h-1zM255 555h1v3h-1zM256 555h1v3h-1zM257 555h1v2h-1zM258 554h1v3h-1zM259 554h1v2h-1zM260 554h1v2h-1zM261 554h1v3h-1zM262 555h1v2h-1zM263 555h1v2h-1zM264 555h1v2h-1zM265 555h1v2h-1zM266 555h1v2h-1zM267 555h1v2h-1zM268 555h1v2h-1zM269 555h1v2h-1zM270 555h1v2h-1zM271 555h1v2h-1zM272 555h1v2h-1zM273 555h1v2h-1zM274 555h1v2h-1zM275 555h1v2h-1zM276 555h1v2h-1zM277 555h1v2h-1zM278 555h1v2h-1zM279 555h1v2h-1zM280 554h1v3h-1zM281 554h1v2h-1zM282 553h1v3h-1zM283 553h1v2h-1zM284 552h1v3h-1zM285 551h1v3h-1zM286 551h1v2h-1zM287 550h1v3h-1zM288 550h1v2h-1zM289 549h1v3h-1zM290 549h1v2h-1zM291 549h1v2h-1zM292 549h1v4h-1zM293 550h1v4h-1zM294 552h1v4h-1zM295 553h1v4h-1zM296 554h1v3h-1zM297 554h1v2h-1zM298 553h1v3h-1zM299 553h1v2h-1zM300 552h1v3h-1zM301 551h1v3h-1zM302 551h1v2h-1zM303 550h1v3h-1zM304 549h1v3h-1zM305 548h1v3h-1zM306 548h1v2h-1zM307 547h1v3h-1zM308 546h1v3h-1zM309 546h1v2h-1zM310 545h1v3h-1zM311 545h1v2h-1zM312 545h1v2h-1zM313 545h1v2h-1zM314 545h1v2h-1zM315 545h1v2h-1zM316 545h1v2h-1zM317 545h1v3h-1zM318 546h1v2h-1zM319 546h1v2h-1zM320 545h1v3h-1zM321 545h1v2h-1zM322 544h1v3h-1zM323 544h1v2h-1zM324 543h1v3h-1zM325 542h1v3h-1zM326 542h1v2h-1zM327 541h1v3h-1zM328 541h1v2h-1zM329 540h1v3h-1zM330 540h1v2h-1zM331 540h1v2h-1zM332 540h1v2h-1zM333 540h1v2h-1zM334 540h1v2h-1zM335 540h1v2h-1zM336 540h1v2h-1zM337 540h1v2h-1zM338 540h1v2h-1zM339 540h1v2h-1zM340 540h1v2h-1zM341 540h1v2h-1zM342 540h1v2h-1zM343 540h1v2h-1zM344 540h1v3h-1zM345 541h1v2h-1zM346 541h1v3h-1zM347 542h1v2h-1zM348 542h1v2h-1zM349 542h1v2h-1zM350 542h1v2h-1zM351 542h1v2h-1zM352 542h1v2h-1zM353 542h1v2h-1zM354 542h1v2h-1zM355 542h1v2h-1zM356 542h1v3h-1zM357 543h1v3h-1zM358 544h1v3h-1zM359 545h1v3h-1zM360 546h1v2h-1zM361 546h1v3h-1zM362 547h1v2h-1zM363 547h1v2h-1zM364 547h1v2h-1zM365 546h1v3h-1zM366 546h1v2h-1zM367 546h1v2h-1zM368 546h1v2h-1zM369 546h1v2h-1zM370 546h1v2h-1zM371 546h1v2h-1zM372 546h1v2h-1zM373 545h1v3h-1zM374 545h1v2h-1zM375 545h1v2h-1zM376 545h1v2h-1zM377 545h1v2h-1zM378 545h1v2h-1zM379 545h1v2h-1zM380 544h1v3h-1zM381 543h1v3h-1zM382 543h1v2h-1zM383 542h1v3h-1zM384 541h1v3h-1zM385 540h1v3h-1zM386 539h1v3h-1zM387 538h1v3h-1zM388 538h1v2h-1zM389 538h1v3h-1zM390 539h1v2h-1zM391 539h1v2h-1zM392 539h1v4h-1zM393 540h1v5h-1zM394 542h1v5h-1zM395 544h1v4h-1zM396 546h1v2h-1zM397 545h1v3h-1zM398 545h1v2h-1zM399 545h1v2h-1zM400 545h1v4h-1zM401 546h1v4h-1zM402 548h1v4h-1zM403 549h1v4h-1zM404 551h1v3h-1zM405 552h1v3h-1zM406 553h1v2h-1zM407 553h1v3h-1zM408 554h1v2h-1zM409 554h1v3h-1zM410 555h1v2h-1zM411 555h1v2h-1zM412 554h1v3h-1zM413 552h1v4h-1zM414 551h1v4h-1zM415 550h1v3h-1zM416 549h1v3h-1zM417 549h1v2h-1zM418 548h1v3h-1zM419 548h1v2h-1zM420 548h1v2h-1zM421 548h1v2h-1zM422 548h1v2h-1zM423 548h1v2h-1zM424 547h1v3h-1zM425 547h1v2h-1zM426 546h1v3h-1zM427 546h1v2h-1zM428 546h1v2h-1zM429 546h1v2h-1zM430 546h1v2h-1zM431 546h1v2h-1zM432 545h1v3h-1zM433 545h1v2h-1zM434 544h1v3h-1zM435 544h1v2h-1zM436 544h1v2h-1zM437 544h1v2h-1zM438 544h1v2h-1zM439 544h1v2h-1zM440 544h1v2h-1zM441 544h1v2h-1zM442 544h1v2h-1zM443 544h1v2h-1zM444 544h1v4h-1zM445 545h1v5h-1zM446 547h1v5h-1zM447 549h1v5h-1zM448 551h1v3h-1zM449 551h1v2h-1zM450 550h1v3h-1zM451 550h1v2h-1zM452 550h1v2h-1zM453 550h1v3h-1zM454 551h1v2h-1zM455 551h1v2h-1zM456 551h1v2h-1zM457 550h1v3h-1zM458 550h1v2h-1zM459 550h1v2h-1zM460 550h1v2h-1zM461 550h1v3h-1zM462 551h1v2h-1zM463 551h1v2h-1zM464 551h1v2h-1zM465 551h1v2h-1zM466 551h1v2h-1zM467 551h1v2h-1zM468 551h1v2h-1zM469 551h1v2h-1zM470 551h1v2h-1zM471 551h1v2h-1zM472 551h1v2h-1zM473 551h1v2h-1zM474 551h1v2h-1zM475 551h1v2h-1zM476 551h1v2h-1zM477 551h1v3h-1zM478 552h1v2h-1zM479 552h1v2h-1zM480 550h1v4h-1zM481 548h1v5h-1zM482 546h1v5h-1zM483 544h1v5h-1zM484 544h1v3h-1zM485 545h1v2h-1zM486 545h1v3h-1zM487 546h1v2h-1zM488 546h1v3h-1zM489 547h1v3h-1zM490 548h1v3h-1zM491 549h1v3h-1zM492 549h1v3h-1zM493 549h1v2h-1zM494 548h1v3h-1zM495 548h1v2h-1zM496 547h1v3h-1zM497 546h1v3h-1zM498 546h1v2h-1zM499 545h1v3h-1zM500 545h1v2h-1zM501 545h1v2h-1zM502 545h1v2h-1zM503 545h1v2h-1zM504 544h1v3h-1zM505 543h1v3h-1zM506 543h1v2h-1zM507 542h1v3h-1zM508 542h1v2h-1zM509 541h1v3h-1zM510 541h1v2h-1zM511 541h1v2h-1zM512 541h1v2h-1zM513 541h1v2h-1zM514 541h1v2h-1zM515 541h1v2h-1zM516 541h1v2h-1zM517 541h1v2h-1zM518 541h1v2h-1zM519 541h1v2h-1zM520 540h1v3h-1zM521 540h1v2h-1zM522 539h1v3h-1zM523 539h1v2h-1zM524 539h1v2h-1zM525 539h1v2h-1zM526 539h1v2h-1zM527 539h1v2h-1zM528 539h1v2h-1zM529 539h1v2h-1zM530 539h1v2h-1zM531 539h1v2h-1zM532 539h1v2h-1zM533 539h1v3h-1zM534 540h1v2h-1zM535 540h1v2h-1zM536 540h1v2h-1zM537 540h1v2h-1zM538 540h1v2h-1zM539 540h1v2h-1zM540 540h1v2h-1zM541 540h1v2h-1zM542 540h1v2h-1zM543 540h1v2h-1zM544 540h1v2h-1zM545 539h1v3h-1zM546 539h1v2h-1zM547 539h1v2h-1zM548 539h1v2h-1zM549 539h1v2h-1zM550 539h1v2h-1zM551 539h1v2h-1zM552 539h1v3h-1zM553 540h1v2h-1zM554 540h1v3h-1zM555 541h1v2h-1zM556 541h1v2h-1zM557 541h1v2h-1zM558 541h1v2h-1zM559 541h1v2h-1zM560 541h1v2h-1zM561 541h1v3h-1zM562 542h1v2h-1zM563 542h1v2h-1zM564 542h1v2h-1zM565 542h1v2h-1zM566 542h1v2h-1zM567 542h1v2h-1zM568 542h1v2h-1zM569 541h1v3h-1zM570 541h1v2h-1zM571 541h1v2h-1zM572 541h1v2h-1zM573 541h1v2h-1zM574 541h1v2h-1zM575 541h1v2h-1zM576 541h1v3h-1zM577 542h1v3h-1zM578 543h1v2h-1zM579 543h1v3h-1zM580 543h1v3h-1zM581 542h1v3h-1zM582 541h1v3h-1zM583 540h1v3h-1zM584 539h1v3h-1zM585 538h1v3h-1zM586 538h1v2h-1zM587 537h1v3h-1zM588 537h1v2h-1zM589 536h1v3h-1zM590 536h1v2h-1zM591 536h1v2h-1zM592 536h1v2h-1zM593 535h1v3h-1zM594 535h1v2h-1zM595 535h1v2h-1zM596 535h1v3h-1zM597 536h1v4h-1zM598 537h1v4h-1zM599 539h1v3h-1zM600 539h1v3h-1zM601 539h1v2h-1zM602 538h1v3h-1zM603 538h1v2h-1zM604 537h1v3h-1zM605 536h1v3h-1zM606 536h1v2h-1zM607 535h1v3h-1zM608 535h1v2h-1zM609 534h1v3h-1zM610 534h1v2h-1zM611 534h1v2h-1zM612 533h1v3h-1zM613 533h1v2h-1zM614 532h1v3h-1zM615 532h1v2h-1zM616 532h1v2h-1zM617 532h1v2h-1zM618 532h1v2h-1zM619 532h1v2h-1zM620 532h1v2h-1zM621 531h1v3h-1zM622 531h1v2h-1zM623 531h1v2h-1zM624 531h1v2h-1zM625 531h1v2h-1zM626 531h1v2h-1zM627 531h1v2h-1zM628 531h1v2h-1zM629 531h1v3h-1zM630 532h1v2h-1zM631 532h1v2h-1zM632 532h1v2h-1zM633 532h1v3h-1zM634 533h1v2h-1zM635 533h1v2h-1zM636 533h1v2h-1zM637 533h1v2h-1zM638 533h1v2h-1zM639 533h1v2h-1zM640 533h1v2h-1zM641 533h1v2h-1zM642 533h1v2h-1zM643 533h1v2h-1zM644 532h1v3h-1zM645 532h1v2h-1zM646 531h1v3h-1zM647 531h1v2h-1zM648 531h1v2h-1zM649 531h1v2h-1zM650 531h1v2h-1zM651 531h1v2h-1zM652 531h1v3h-1zM653 532h1v3h-1zM654 533h1v3h-1zM655 534h1v3h-1zM656 535h1v2h-1zM657 535h1v2h-1zM658 535h1v2h-1zM659 535h1v2h-1zM660 535h1v2h-1zM661 535h1v2h-1zM662 535h1v2h-1zM663 535h1v2h-1zM664 535h1v2h-1zM665 535h1v3h-1zM666 536h1v2h-1zM667 536h1v2h-1zM668 536h1v2h-1zM669 536h1v3h-1zM670 537h1v2h-1zM671 537h1v2h-1zM672 537h1v3h-1zM673 538h1v2h-1zM674 538h1v3h-1zM675 539h1v2h-1zM676 539h1v2h-1zM677 539h1v3h-1zM678 540h1v2h-1zM679 540h1v2h-1zM680 540h1v3h-1zM681 541h1v4h-1zM682 542h1v4h-1zM683 544h1v3h-1zM684 545h1v2h-1zM685 544h1v3h-1zM686 544h1v2h-1zM687 544h1v2h-1zM688 543h1v3h-1zM689 543h1v2h-1zM690 542h1v3h-1zM691 542h1v2h-1zM692 542h1v2h-1zM693 542h1v2h-1zM694 542h1v2h-1zM695 542h1v2h-1zM696 542h1v3h-1zM697 543h1v2h-1zM698 543h1v3h-1zM699 544h1v2h-1zM700 544h1v2h-1zM701 544h1v3h-1zM702 545h1v2h-1zM703 545h1v2h-1zM704 545h1v3h-1zM705 546h1v2h-1zM706 546h1v3h-1zM707 547h1v2h-1zM708 547h1v3h-1zM709 548h1v3h-1zM710 549h1v2h-1zM711 549h1v3h-1zM712 549h1v3h-1zM713 548h1v3h-1zM714 548h1v2h-1zM715 547h1v3h-1zM716 546h1v3h-1zM717 545h1v3h-1zM718 545h1v2h-1zM719 544h1v3h-1zM720 544h1v2h-1zM721 543h1v3h-1zM722 543h1v2h-1zM723 543h1v2h-1zM724 543h1v2h-1zM725 543h1v2h-1zM726 543h1v2h-1zM727 543h1v2h-1zM728 543h1v2h-1zM729 543h1v2h-1zM730 543h1v2h-1zM731 543h1v2h-1zM732 543h1v2h-1z" fill="#008080"/>
<rect x="2" y="2" width="756" height="1" fill="#000"/>
<rect x="2" y="451" width="756" height="1" fill="#000"/>
<rect x="2" y="2" width="1" height="450" fill="#000"/>
<rect x="757" y="2" width="1" height="450" fill="#000"/>
<rect x="2" y="453" width="756" height="1" fill="#000"/>
<rect x="2" y="515" width="756" height="1" fill="#000"/>
<rect x="2" y="453" width="1" height="63" fill="#000"/>
<rect x="757" y="453" width="1" height="63" fill="#000"/>
<rect x="2" y="517" width="756" height="1" fill="#000"/>
<rect x="2" y="579" width="756" height="1" fill="#000"/>
<rect x="2" y="517" width="1" height="63" fill="#000"/>
<rect x="757" y="517" width="1" height="63" fill="#000"/>
<rect x="758" y="19" width="2" height="1" fill="#000"/>
<text x="763.00" y="23" class="t" textLength="33.98" lengthAdjust="spacingAndGlyphs">0.95890</text>
<rect x="758" y="52" width="2" height="1" fill="#000"/>
<text x="763.00" y="56" class="t" textLength="33.98" lengthAdjust="spacingAndGlyphs">0.95640</text>
<rect x="758" y="85" width="2" height="1" fill="#000"/>
<text x="763.00" y="89" class="t" textLength="33.98" lengthAdjust="spacingAndGlyphs">0.95385</text>
<rect x="758" y="118" width="2" height="1" fill="#000"/>
<text x="763.00" y="122" class="t" textLength="33.98" lengthAdjust="spacingAndGlyphs">0.95135</text>
<rect x="758" y="151" width="2" height="1" fill="#000"/>
<text x="763.00" y="155" class="t" textLength="33.98" lengthAdjust="spacingAndGlyphs">0.94885</text>
<rect x="758" y="184" width="2" height="1" fill="#000"/>
<text x="763.00" y="188" class="t" textLength="33.98" lengthAdjust="spacingAndGlyphs">0.94630</text>
<rect x="758" y="217" width="2" height="1" fill="#000"/>
<text x="763.00" y="221" class="t" textLength="33.98" lengthAdjust="spacingAndGlyphs">0.94380</text>
<rect x="758" y="250" width="2" height="1" fill="#000"/>
<text x="763.00" y="254" class="t" textLength="33.98" lengthAdjust="spacingAndGlyphs">0.94130</text>
<rect x="758" y="283" width="2" height="1" fill="#000"/>
<text x="763.00" y="287" class="t" textLength="33.98" lengthAdjust="spacingAndGlyphs">0.93875</text>
<rect x="758" y="316" width="2" height="1" fill="#000"/>
<text x="763.00" y="320" class="t" textLength="33.98" lengthAdjust="spacingAndGlyphs">0.93625</text>
<rect x="758" y="349" width="2" height="1" fill="#000"/>
<text x="763.00" y="353" class="t" textLength="33.98" lengthAdjust="spacingAndGlyphs">0.93375</text>
<rect x="758" y="382" width="2" height="1" fill="#000"/>
<text x="763.00" y="386" class="t" textLength="33.98" lengthAdjust="spacingAndGlyphs">0.93120</text>
<rect x="758" y="415" width="2" height="1" fill="#000"/>
<text x="763.00" y="419" class="t" textLength="33.98" lengthAdjust="spacingAndGlyphs">0.92870</text>
<rect x="758" y="448" width="2" height="1" fill="#000"/>
<text x="763.00" y="452" class="t" textLength="33.98" lengthAdjust="spacingAndGlyphs">0.92620</text>
<rect x="759" y="117" width="41" height="11" fill="#000"/>
<rect x="757" y="117" width="2" height="1" fill="#000"/>
<text x="763.00" y="126" class="t" textLength="33.98" lengthAdjust="spacingAndGlyphs" style="fill:#fff;stroke:#fff">0.95109</text>
<rect x="758" y="454" width="2" height="1" fill="#000"/>
<rect x="758" y="514" width="2" height="1" fill="#000"/>
<rect x="758" y="486" width="1" height="1" fill="#000"/>
<text x="762.20" y="490" class="t" textLength="5.23" lengthAdjust="spacingAndGlyphs">0</text>
<text x="761.00" y="465" class="t" textLength="39.20" lengthAdjust="spacingAndGlyphs">0.002684</text>
<text x="761.00" y="490" class="t" textLength="18.29" lengthAdjust="spacingAndGlyphs">0.00</text>
<text x="761.00" y="513" class="t" textLength="42.33" lengthAdjust="spacingAndGlyphs">-0.002403</text>
<rect x="758" y="518" width="2" height="1" fill="#000"/>
<rect x="758" y="578" width="2" height="1" fill="#000"/>
<rect x="758" y="536" width="2" height="1" fill="#000"/>
<rect x="758" y="560" width="2" height="1" fill="#000"/>
<text x="761.00" y="529" class="t" textLength="15.68" lengthAdjust="spacingAndGlyphs">100</text>
<text x="761.00" y="540" class="t" textLength="10.45" lengthAdjust="spacingAndGlyphs">70</text>
<text x="761.00" y="564" class="t" textLength="10.45" lengthAdjust="spacingAndGlyphs">30</text>
<text x="761.00" y="577" class="t" textLength="5.23" lengthAdjust="spacingAndGlyphs">0</text>
<rect x="3" y="580" width="1" height="3" fill="#000"/>
<text x="2.00" y="592" class="t" textLength="52.78" lengthAdjust="spacingAndGlyphs">28 Feb 2018</text>
<rect x="67" y="580" width="1" height="3" fill="#000"/>
<text x="66.00" y="592" class="t" textLength="50.16" lengthAdjust="spacingAndGlyphs">1 Mar 01:00</text>
<rect x="131" y="580" width="1" height="3" fill="#000"/>
<text x="130.00" y="592" class="t" textLength="50.16" lengthAdjust="spacingAndGlyphs">1 Mar 17:00</text>
<rect x="195" y="580" width="1" height="3" fill="#000"/>
<text x="194.00" y="592" class="t" textLength="50.16" lengthAdjust="spacingAndGlyphs">2 Mar 09:00</text>
<rect x="259" y="580" width="1" height="3" fill="#000"/>
<text x="258.00" y="592" class="t" textLength="50.16" lengthAdjust="spacingAndGlyphs">5 Mar 01:00</text>
<rect x="323" y="580" width="1" height="3" fill="#000"/>
<text x="322.00" y="592" class="t" textLength="50.16" lengthAdjust="spacingAndGlyphs">5 Mar 17:00</text>
<rect x="387" y="580" width="1" height="3" fill="#000"/>
<text x="386.00" y="592" class="t" textLength="50.16" lengthAdjust="spacingAndGlyphs">6 Mar 09:00</text>
<rect x="451" y="580" width="1" height="3" fill="#000"/>
<text x="450.00" y="592" class="t" textLength="50.16" lengthAdjust="spacingAndGlyphs">7 Mar 01:00</text>
<rect x="515" y="580" width="1" height="3" fill="#000"/>
<text x="514.00" y="592" class="t" textLength="50.16" lengthAdjust="spacingAndGlyphs">7 Mar 17:00</text>
<rect x="579" y="580" width="1" height="3" fill="#000"/>
<text x="578.00" y="592" class="t" textLength="50.16" lengthAdjust="spacingAndGlyphs">8 Mar 09:00</text>
<rect x="643" y="580" width="1" height="3" fill="#000"/>
<text x="642.00" y="592" class="t" textLength="50.16" lengthAdjust="spacingAndGlyphs">9 Mar 01:00</text>
<rect x="707" y="580" width="1" height="3" fill="#000"/>
<text x="706.00" y="592" class="t" textLength="50.16" lengthAdjust="spacingAndGlyphs">9 Mar 17:00</text>
<path d="M6 9h7l-3.5 4z" fill="#000"/>
<text x="18.00" y="14" class="t" textLength="55.56" lengthAdjust="spacingAndGlyphs">USDCHF,H1</text>
<text x="79.00" y="14" class="t" textLength="140.68" lengthAdjust="spacingAndGlyphs">0.95108 0.95147 0.95106 0.95109</text>
<text x="7.00" y="466" class="t" textLength="148.92" lengthAdjust="spacingAndGlyphs">MACD(12,26,9) 0.000534 0.000673</text>
<text x="7.00" y="530" class="t" textLength="67.50" lengthAdjust="spacingAndGlyphs">RSI(14) 58.0163</text>
</svg>
</body></html>
